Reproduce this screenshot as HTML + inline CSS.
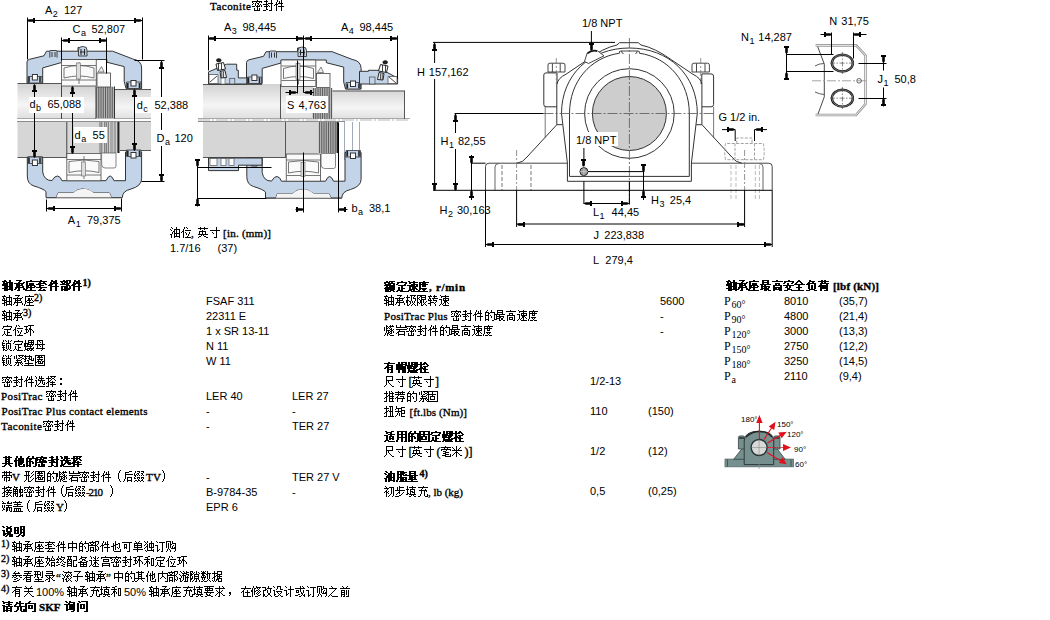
<!DOCTYPE html>
<html><head><meta charset="utf-8"><style>
html,body{margin:0;padding:0;background:#fff;width:1050px;height:620px;overflow:hidden}
svg{position:absolute;left:0;top:0;display:block}
text{fill:#000}
</style></head><body>
<svg width="1050" height="620" viewBox="0 0 1050 620">
<defs><path id="g8f74" d="M2 0h1v1h-1zM7 0h1v1h-1zM0 1h4v1h-4zM7 1h1v1h-1zM1 2h1v1h-1zM4 2h6v1h-6zM1 3h2v1h-2zM4 3h1v1h-1zM7 3h1v1h-1zM9 3h1v1h-1zM0 4h1v1h-1zM2 4h1v1h-1zM4 4h1v1h-1zM7 4h1v1h-1zM9 4h1v1h-1zM0 5h5v1h-5zM7 5h1v1h-1zM9 5h1v1h-1zM2 6h1v1h-1zM4 6h6v1h-6zM2 7h3v1h-3zM7 7h1v1h-1zM9 7h1v1h-1zM0 8h3v1h-3zM4 8h1v1h-1zM7 8h1v1h-1zM9 8h1v1h-1zM2 9h1v1h-1zM4 9h6v1h-6zM2 10h1v1h-1zM4 10h1v1h-1zM9 10h1v1h-1z"/><path id="g627f" d="M2 0h5v1h-5zM5 1h1v1h-1zM4 2h1v1h-1zM9 2h1v1h-1zM0 3h9v1h-9zM2 4h1v1h-1zM4 4h1v1h-1zM7 4h1v1h-1zM2 5h6v1h-6zM2 6h1v1h-1zM4 6h1v1h-1zM8 6h1v1h-1zM1 7h8v1h-8zM1 8h1v1h-1zM4 8h1v1h-1zM9 8h1v1h-1zM0 9h1v1h-1zM4 9h1v1h-1zM9 9h1v1h-1zM3 10h2v1h-2z"/><path id="g5ea7" d="M5 0h1v1h-1zM1 1h9v1h-9zM1 2h1v1h-1zM1 3h1v1h-1zM4 3h2v1h-2zM7 3h1v1h-1zM1 4h1v1h-1zM4 4h2v1h-2zM7 4h1v1h-1zM1 5h1v1h-1zM3 5h4v1h-4zM8 5h1v1h-1zM1 6h2v1h-2zM5 6h1v1h-1zM9 6h1v1h-1zM1 7h1v1h-1zM3 7h6v1h-6zM1 8h1v1h-1zM5 8h1v1h-1zM0 9h1v1h-1zM5 9h1v1h-1zM0 10h1v1h-1zM2 10h8v1h-8z"/><path id="g5957" d="M4 0h1v1h-1zM0 1h10v1h-10zM3 2h1v1h-1zM7 2h1v1h-1zM2 3h5v1h-5zM8 3h1v1h-1zM0 4h2v1h-2zM3 4h1v1h-1zM9 4h1v1h-1zM3 5h4v1h-4zM3 6h1v1h-1zM0 7h10v1h-10zM4 8h1v1h-1zM3 9h1v1h-1zM7 9h1v1h-1zM2 10h7v1h-7z"/><path id="g4ef6" d="M3 0h1v1h-1zM7 0h1v1h-1zM3 1h1v1h-1zM5 1h1v1h-1zM7 1h1v1h-1zM2 2h1v1h-1zM5 2h1v1h-1zM7 2h1v1h-1zM2 3h1v1h-1zM4 3h5v1h-5zM1 4h3v1h-3zM7 4h1v1h-1zM0 5h1v1h-1zM2 5h1v1h-1zM7 5h1v1h-1zM2 6h1v1h-1zM4 6h6v1h-6zM2 7h1v1h-1zM7 7h1v1h-1zM2 8h1v1h-1zM7 8h1v1h-1zM2 9h1v1h-1zM7 9h1v1h-1zM2 10h1v1h-1zM7 10h1v1h-1z"/><path id="g90e8" d="M3 0h1v1h-1zM6 0h4v1h-4zM0 1h7v1h-7zM9 1h1v1h-1zM1 2h1v1h-1zM4 2h1v1h-1zM6 2h1v1h-1zM9 2h1v1h-1zM2 3h2v1h-2zM6 3h1v1h-1zM8 3h1v1h-1zM0 4h8v1h-8zM6 5h1v1h-1zM8 5h1v1h-1zM1 6h4v1h-4zM6 6h1v1h-1zM9 6h1v1h-1zM1 7h1v1h-1zM4 7h1v1h-1zM6 7h1v1h-1zM9 7h1v1h-1zM1 8h1v1h-1zM4 8h1v1h-1zM6 8h2v1h-2zM9 8h1v1h-1zM1 9h4v1h-4zM6 9h1v1h-1zM8 9h1v1h-1zM1 10h1v1h-1zM4 10h1v1h-1zM6 10h1v1h-1z"/><path id="g5b9a" d="M5 0h1v1h-1zM1 1h9v1h-9zM1 2h1v1h-1zM9 2h1v1h-1zM0 3h1v1h-1zM8 3h1v1h-1zM2 4h7v1h-7zM5 5h1v1h-1zM2 6h1v1h-1zM5 6h1v1h-1zM2 7h1v1h-1zM5 7h3v1h-3zM2 8h1v1h-1zM5 8h1v1h-1zM1 9h1v1h-1zM3 9h1v1h-1zM5 9h1v1h-1zM0 10h1v1h-1zM4 10h6v1h-6z"/><path id="g4f4d" d="M3 0h1v1h-1zM5 0h1v1h-1zM3 1h1v1h-1zM6 1h1v1h-1zM2 2h1v1h-1zM2 3h1v1h-1zM4 3h6v1h-6zM1 4h2v1h-2zM0 5h1v1h-1zM2 5h1v1h-1zM4 5h1v1h-1zM8 5h1v1h-1zM2 6h1v1h-1zM5 6h1v1h-1zM8 6h1v1h-1zM2 7h1v1h-1zM5 7h1v1h-1zM7 7h1v1h-1zM2 8h1v1h-1zM7 8h1v1h-1zM2 9h1v1h-1zM6 9h1v1h-1zM2 10h1v1h-1zM4 10h6v1h-6z"/><path id="g73af" d="M4 0h6v1h-6zM0 1h4v1h-4zM6 1h1v1h-1zM2 2h1v1h-1zM6 2h1v1h-1zM2 3h1v1h-1zM5 3h2v1h-2zM1 4h3v1h-3zM5 4h3v1h-3zM2 5h1v1h-1zM4 5h1v1h-1zM6 5h1v1h-1zM8 5h1v1h-1zM2 6h1v1h-1zM4 6h1v1h-1zM6 6h1v1h-1zM9 6h1v1h-1zM2 7h2v1h-2zM6 7h1v1h-1zM9 7h1v1h-1zM0 8h2v1h-2zM6 8h1v1h-1zM6 9h1v1h-1zM6 10h1v1h-1z"/><path id="g9501" d="M1 0h1v1h-1zM3 0h1v1h-1zM6 0h1v1h-1zM9 0h1v1h-1zM1 1h1v1h-1zM4 1h1v1h-1zM6 1h1v1h-1zM8 1h1v1h-1zM0 2h1v1h-1zM6 2h1v1h-1zM0 3h3v1h-3zM4 3h5v1h-5zM0 4h1v1h-1zM4 4h1v1h-1zM8 4h1v1h-1zM0 5h3v1h-3zM4 5h1v1h-1zM6 5h1v1h-1zM8 5h1v1h-1zM1 6h1v1h-1zM4 6h1v1h-1zM6 6h1v1h-1zM8 6h1v1h-1zM0 7h3v1h-3zM4 7h1v1h-1zM6 7h1v1h-1zM8 7h1v1h-1zM1 8h1v1h-1zM4 8h1v1h-1zM6 8h1v1h-1zM8 8h1v1h-1zM1 9h2v1h-2zM5 9h1v1h-1zM7 9h1v1h-1zM1 10h1v1h-1zM3 10h2v1h-2zM8 10h2v1h-2z"/><path id="g87ba" d="M1 0h1v1h-1zM4 0h6v1h-6zM1 1h1v1h-1zM4 1h1v1h-1zM7 1h1v1h-1zM9 1h1v1h-1zM1 2h1v1h-1zM4 2h6v1h-6zM0 3h5v1h-5zM7 3h1v1h-1zM9 3h1v1h-1zM0 4h2v1h-2zM3 4h7v1h-7zM0 5h2v1h-2zM3 5h1v1h-1zM6 5h1v1h-1zM8 5h1v1h-1zM0 6h8v1h-8zM1 7h1v1h-1zM6 7h1v1h-1zM9 7h1v1h-1zM1 8h1v1h-1zM3 8h7v1h-7zM1 9h3v1h-3zM5 9h1v1h-1zM7 9h2v1h-2zM0 10h1v1h-1zM3 10h2v1h-2zM6 10h2v1h-2zM9 10h1v1h-1z"/><path id="g6bcd" d="M2 0h6v1h-6zM2 1h1v1h-1zM4 1h1v1h-1zM7 1h1v1h-1zM2 2h1v1h-1zM5 2h1v1h-1zM7 2h1v1h-1zM2 3h1v1h-1zM7 3h1v1h-1zM0 4h10v1h-10zM2 5h1v1h-1zM4 5h1v1h-1zM7 5h1v1h-1zM2 6h1v1h-1zM5 6h1v1h-1zM7 6h1v1h-1zM2 7h1v1h-1zM7 7h1v1h-1zM1 8h9v1h-9zM7 9h1v1h-1zM6 10h1v1h-1z"/><path id="g7d27" d="M3 0h1v1h-1zM5 0h6v1h-6zM1 1h1v1h-1zM3 1h1v1h-1zM6 1h1v1h-1zM9 1h1v1h-1zM1 2h1v1h-1zM3 2h1v1h-1zM7 2h2v1h-2zM1 3h1v1h-1zM3 3h1v1h-1zM5 3h2v1h-2zM9 3h2v1h-2zM4 4h1v1h-1zM8 4h1v1h-1zM3 5h5v1h-5zM4 6h1v1h-1zM8 6h1v1h-1zM2 7h7v1h-7zM3 8h1v1h-1zM5 8h1v1h-1zM7 8h1v1h-1zM9 8h1v1h-1zM2 9h1v1h-1zM5 9h1v1h-1zM8 9h1v1h-1zM1 10h1v1h-1zM4 10h2v1h-2zM9 10h1v1h-1z"/><path id="g57ab" d="M1 0h1v1h-1zM5 0h1v1h-1zM0 1h8v1h-8zM1 2h1v1h-1zM5 2h1v1h-1zM7 2h1v1h-1zM1 3h2v1h-2zM4 3h2v1h-2zM7 3h1v1h-1zM9 3h1v1h-1zM0 4h2v1h-2zM5 4h3v1h-3zM9 4h1v1h-1zM1 5h1v1h-1zM3 5h2v1h-2zM7 5h3v1h-3zM0 6h2v1h-2zM4 6h1v1h-1zM4 7h1v1h-1zM1 8h8v1h-8zM4 9h1v1h-1zM0 10h10v1h-10z"/><path id="g5708" d="M0 0h10v1h-10zM0 1h1v1h-1zM3 1h2v1h-2zM6 1h1v1h-1zM9 1h1v1h-1zM0 2h1v1h-1zM2 2h6v1h-6zM9 2h1v1h-1zM0 3h1v1h-1zM4 3h1v1h-1zM9 3h1v1h-1zM0 4h1v1h-1zM2 4h6v1h-6zM9 4h1v1h-1zM0 5h1v1h-1zM3 5h1v1h-1zM6 5h1v1h-1zM9 5h1v1h-1zM0 6h1v1h-1zM2 6h4v1h-4zM7 6h3v1h-3zM0 7h2v1h-2zM3 7h1v1h-1zM5 7h1v1h-1zM7 7h1v1h-1zM9 7h1v1h-1zM0 8h1v1h-1zM3 8h5v1h-5zM9 8h1v1h-1zM0 9h1v1h-1zM9 9h1v1h-1zM0 10h10v1h-10z"/><path id="g5bc6" d="M5 0h1v1h-1zM0 1h10v1h-10zM0 2h1v1h-1zM4 2h1v1h-1zM7 2h1v1h-1zM9 2h1v1h-1zM1 3h1v1h-1zM3 3h1v1h-1zM5 3h2v1h-2zM0 4h1v1h-1zM3 4h1v1h-1zM6 4h1v1h-1zM8 4h1v1h-1zM3 5h1v1h-1zM5 5h1v1h-1zM7 5h1v1h-1zM9 5h1v1h-1zM0 6h3v1h-3zM4 6h4v1h-4zM9 6h1v1h-1zM5 7h1v1h-1zM2 8h1v1h-1zM5 8h1v1h-1zM7 8h1v1h-1zM2 9h1v1h-1zM5 9h1v1h-1zM7 9h1v1h-1zM2 10h6v1h-6z"/><path id="g5c01" d="M3 0h1v1h-1zM8 0h1v1h-1zM1 1h4v1h-4zM8 1h1v1h-1zM3 2h1v1h-1zM8 2h1v1h-1zM3 3h1v1h-1zM5 3h5v1h-5zM0 4h5v1h-5zM8 4h1v1h-1zM3 5h1v1h-1zM5 5h1v1h-1zM8 5h1v1h-1zM1 6h4v1h-4zM6 6h1v1h-1zM8 6h1v1h-1zM3 7h1v1h-1zM8 7h1v1h-1zM3 8h1v1h-1zM8 8h1v1h-1zM3 9h2v1h-2zM8 9h1v1h-1zM0 10h3v1h-3zM6 10h3v1h-3z"/><path id="g9009" d="M0 0h1v1h-1zM4 0h1v1h-1zM6 0h1v1h-1zM1 1h1v1h-1zM4 1h1v1h-1zM6 1h1v1h-1zM1 2h1v1h-1zM4 2h5v1h-5zM3 3h1v1h-1zM6 3h1v1h-1zM0 4h2v1h-2zM3 4h7v1h-7zM1 5h1v1h-1zM5 5h1v1h-1zM7 5h1v1h-1zM1 6h1v1h-1zM5 6h1v1h-1zM7 6h1v1h-1zM9 6h1v1h-1zM1 7h1v1h-1zM4 7h1v1h-1zM7 7h1v1h-1zM9 7h1v1h-1zM1 8h1v1h-1zM3 8h1v1h-1zM8 8h2v1h-2zM0 9h1v1h-1zM2 9h1v1h-1zM0 10h1v1h-1zM3 10h7v1h-7z"/><path id="g62e9" d="M2 0h1v1h-1zM4 0h6v1h-6zM2 1h1v1h-1zM5 1h1v1h-1zM8 1h1v1h-1zM0 2h5v1h-5zM6 2h2v1h-2zM2 3h1v1h-1zM5 3h1v1h-1zM8 3h1v1h-1zM2 4h1v1h-1zM4 4h1v1h-1zM9 4h1v1h-1zM2 5h2v1h-2zM6 5h1v1h-1zM1 6h2v1h-2zM4 6h5v1h-5zM0 7h1v1h-1zM2 7h1v1h-1zM6 7h1v1h-1zM2 8h1v1h-1zM4 8h6v1h-6zM2 9h1v1h-1zM6 9h1v1h-1zM0 10h3v1h-3zM6 10h1v1h-1z"/><path id="gff1a" d="M6 2h2v1h-2zM6 3h2v1h-2zM6 7h2v1h-2zM6 8h2v1h-2z"/><path id="g5176" d="M3 0h1v1h-1zM6 0h1v1h-1zM1 1h8v1h-8zM3 2h1v1h-1zM6 2h1v1h-1zM3 3h4v1h-4zM3 4h1v1h-1zM6 4h1v1h-1zM3 5h4v1h-4zM3 6h1v1h-1zM6 6h1v1h-1zM0 7h10v1h-10zM3 8h1v1h-1zM6 8h1v1h-1zM2 9h1v1h-1zM7 9h1v1h-1zM0 10h2v1h-2zM8 10h1v1h-1z"/><path id="g4ed6" d="M2 0h1v1h-1zM6 0h1v1h-1zM2 1h1v1h-1zM6 1h1v1h-1zM1 2h1v1h-1zM4 2h1v1h-1zM6 2h1v1h-1zM8 2h1v1h-1zM1 3h1v1h-1zM4 3h1v1h-1zM6 3h3v1h-3zM0 4h2v1h-2zM3 4h4v1h-4zM8 4h1v1h-1zM0 5h2v1h-2zM4 5h1v1h-1zM6 5h1v1h-1zM8 5h1v1h-1zM1 6h1v1h-1zM4 6h1v1h-1zM6 6h1v1h-1zM8 6h1v1h-1zM1 7h1v1h-1zM4 7h1v1h-1zM6 7h2v1h-2zM1 8h1v1h-1zM4 8h1v1h-1zM6 8h1v1h-1zM9 8h1v1h-1zM1 9h1v1h-1zM4 9h1v1h-1zM9 9h1v1h-1zM1 10h1v1h-1zM5 10h5v1h-5z"/><path id="g7684" d="M3 0h1v1h-1zM7 0h1v1h-1zM2 1h1v1h-1zM7 1h1v1h-1zM1 2h4v1h-4zM6 2h5v1h-5zM1 3h1v1h-1zM4 3h2v1h-2zM10 3h1v1h-1zM1 4h1v1h-1zM4 4h1v1h-1zM10 4h1v1h-1zM1 5h4v1h-4zM6 5h1v1h-1zM10 5h1v1h-1zM1 6h1v1h-1zM4 6h1v1h-1zM7 6h1v1h-1zM10 6h1v1h-1zM1 7h1v1h-1zM4 7h1v1h-1zM7 7h1v1h-1zM10 7h1v1h-1zM1 8h1v1h-1zM4 8h1v1h-1zM10 8h1v1h-1zM1 9h4v1h-4zM10 9h1v1h-1zM1 10h1v1h-1zM4 10h1v1h-1zM8 10h2v1h-2z"/><path id="g5e26" d="M2 0h1v1h-1zM4 0h1v1h-1zM7 0h1v1h-1zM0 1h10v1h-10zM2 2h1v1h-1zM4 2h1v1h-1zM7 2h1v1h-1zM2 3h1v1h-1zM4 3h1v1h-1zM7 3h1v1h-1zM0 4h10v1h-10zM0 5h1v1h-1zM4 5h1v1h-1zM9 5h1v1h-1zM0 6h1v1h-1zM2 6h6v1h-6zM9 6h1v1h-1zM2 7h1v1h-1zM4 7h1v1h-1zM7 7h1v1h-1zM2 8h1v1h-1zM4 8h1v1h-1zM7 8h1v1h-1zM2 9h1v1h-1zM4 9h1v1h-1zM6 9h2v1h-2zM4 10h1v1h-1z"/><path id="g5f62" d="M1 0h5v1h-5zM9 0h1v1h-1zM2 1h1v1h-1zM4 1h1v1h-1zM8 1h1v1h-1zM2 2h1v1h-1zM4 2h1v1h-1zM7 2h1v1h-1zM2 3h1v1h-1zM4 3h1v1h-1zM9 3h1v1h-1zM0 4h6v1h-6zM8 4h1v1h-1zM2 5h1v1h-1zM4 5h1v1h-1zM7 5h1v1h-1zM2 6h1v1h-1zM4 6h1v1h-1zM6 6h1v1h-1zM2 7h1v1h-1zM4 7h1v1h-1zM9 7h1v1h-1zM2 8h1v1h-1zM4 8h1v1h-1zM8 8h1v1h-1zM1 9h1v1h-1zM4 9h1v1h-1zM7 9h1v1h-1zM0 10h1v1h-1zM4 10h3v1h-3z"/><path id="g71e7" d="M2 0h1v1h-1zM6 0h1v1h-1zM8 0h1v1h-1zM2 1h2v1h-2zM5 1h5v1h-5zM0 2h1v1h-1zM2 2h1v1h-1zM4 2h1v1h-1zM6 2h1v1h-1zM0 3h1v1h-1zM2 3h2v1h-2zM5 3h1v1h-1zM7 3h1v1h-1zM0 4h1v1h-1zM2 4h1v1h-1zM6 4h2v1h-2zM9 4h1v1h-1zM0 5h1v1h-1zM2 5h4v1h-4zM7 5h2v1h-2zM2 6h1v1h-1zM4 6h1v1h-1zM6 6h2v1h-2zM9 6h1v1h-1zM2 7h1v1h-1zM4 7h2v1h-2zM7 7h1v1h-1zM9 7h1v1h-1zM1 8h1v1h-1zM3 8h2v1h-2zM6 8h2v1h-2zM1 9h1v1h-1zM3 9h1v1h-1zM5 9h1v1h-1zM0 10h1v1h-1zM3 10h1v1h-1zM6 10h4v1h-4z"/><path id="g5ca9" d="M1 0h1v1h-1zM5 0h1v1h-1zM10 0h1v1h-1zM1 1h1v1h-1zM5 1h1v1h-1zM10 1h1v1h-1zM1 2h10v1h-10zM1 4h10v1h-10zM4 5h1v1h-1zM3 6h7v1h-7zM2 7h2v1h-2zM9 7h1v1h-1zM1 8h1v1h-1zM3 8h1v1h-1zM9 8h1v1h-1zM3 9h7v1h-7zM3 10h1v1h-1zM9 10h1v1h-1z"/><path id="gff08" d="M9 -1h1v1h-1zM8 0h1v1h-1zM8 1h1v1h-1zM7 2h1v1h-1zM7 3h1v1h-1zM7 4h1v1h-1zM7 5h1v1h-1zM7 6h1v1h-1zM7 7h1v1h-1zM8 8h1v1h-1zM8 9h1v1h-1zM9 10h1v1h-1z"/><path id="g540e" d="M6 0h3v1h-3zM2 1h4v1h-4zM2 2h1v1h-1zM2 3h8v1h-8zM2 4h1v1h-1zM2 5h1v1h-1zM2 6h1v1h-1zM4 6h5v1h-5zM2 7h1v1h-1zM4 7h1v1h-1zM8 7h1v1h-1zM1 8h1v1h-1zM4 8h1v1h-1zM8 8h1v1h-1zM1 9h1v1h-1zM4 9h5v1h-5zM0 10h1v1h-1zM4 10h1v1h-1zM8 10h1v1h-1z"/><path id="g7f00" d="M1 0h1v1h-1zM3 0h3v1h-3zM7 0h3v1h-3zM1 1h1v1h-1zM5 1h1v1h-1zM9 1h1v1h-1zM0 2h1v1h-1zM3 2h2v1h-2zM7 2h2v1h-2zM0 3h1v1h-1zM2 3h1v1h-1zM4 3h1v1h-1zM8 3h1v1h-1zM0 4h2v1h-2zM3 4h1v1h-1zM5 4h1v1h-1zM7 4h1v1h-1zM9 4h1v1h-1zM1 5h1v1h-1zM0 6h1v1h-1zM3 6h3v1h-3zM7 6h3v1h-3zM0 7h2v1h-2zM3 7h1v1h-1zM5 7h1v1h-1zM7 7h1v1h-1zM9 7h1v1h-1zM4 8h1v1h-1zM8 8h1v1h-1zM1 9h2v1h-2zM4 9h2v1h-2zM7 9h2v1h-2zM0 10h1v1h-1zM3 10h1v1h-1zM6 10h1v1h-1zM9 10h1v1h-1z"/><path id="gff09" d="M3 -1h1v1h-1zM4 0h1v1h-1zM4 1h1v1h-1zM5 2h1v1h-1zM5 3h1v1h-1zM5 4h1v1h-1zM5 5h1v1h-1zM5 6h1v1h-1zM5 7h1v1h-1zM4 8h1v1h-1zM4 9h1v1h-1zM3 10h1v1h-1z"/><path id="g63a5" d="M2 0h1v1h-1zM6 0h1v1h-1zM2 1h1v1h-1zM4 1h6v1h-6zM0 2h5v1h-5zM8 2h1v1h-1zM2 3h1v1h-1zM5 3h1v1h-1zM7 3h1v1h-1zM2 4h1v1h-1zM4 4h6v1h-6zM2 5h2v1h-2zM6 5h1v1h-1zM1 6h2v1h-2zM4 6h6v1h-6zM0 7h1v1h-1zM2 7h1v1h-1zM5 7h1v1h-1zM8 7h1v1h-1zM2 8h1v1h-1zM4 8h2v1h-2zM7 8h1v1h-1zM2 9h1v1h-1zM6 9h1v1h-1zM8 9h1v1h-1zM0 10h3v1h-3zM4 10h2v1h-2zM9 10h1v1h-1z"/><path id="g89e6" d="M1 0h1v1h-1zM7 0h1v1h-1zM1 1h4v1h-4zM7 1h1v1h-1zM0 2h1v1h-1zM3 2h1v1h-1zM7 2h1v1h-1zM0 3h5v1h-5zM6 3h4v1h-4zM0 4h1v1h-1zM2 4h1v1h-1zM4 4h1v1h-1zM6 4h2v1h-2zM9 4h1v1h-1zM0 5h5v1h-5zM6 5h2v1h-2zM9 5h1v1h-1zM0 6h1v1h-1zM2 6h1v1h-1zM4 6h1v1h-1zM6 6h4v1h-4zM0 7h5v1h-5zM7 7h1v1h-1zM0 8h1v1h-1zM2 8h1v1h-1zM4 8h1v1h-1zM7 8h1v1h-1zM9 8h1v1h-1zM0 9h1v1h-1zM2 9h1v1h-1zM4 9h1v1h-1zM7 9h3v1h-3zM0 10h1v1h-1zM3 10h2v1h-2zM6 10h2v1h-2zM9 10h1v1h-1z"/><path id="g7aef" d="M0 0h1v1h-1zM6 0h1v1h-1zM1 1h1v1h-1zM5 1h2v1h-2zM9 1h1v1h-1zM0 2h4v1h-4zM5 2h5v1h-5zM0 4h1v1h-1zM2 4h1v1h-1zM4 4h6v1h-6zM0 5h1v1h-1zM2 5h1v1h-1zM6 5h1v1h-1zM0 6h1v1h-1zM2 6h1v1h-1zM4 6h6v1h-6zM1 7h1v1h-1zM4 7h2v1h-2zM7 7h1v1h-1zM9 7h1v1h-1zM1 8h2v1h-2zM4 8h2v1h-2zM7 8h1v1h-1zM9 8h1v1h-1zM0 9h1v1h-1zM4 9h2v1h-2zM7 9h1v1h-1zM9 9h1v1h-1zM4 10h1v1h-1zM8 10h2v1h-2z"/><path id="g76d6" d="M2 0h1v1h-1zM6 0h1v1h-1zM0 1h9v1h-9zM4 2h1v1h-1zM1 3h7v1h-7zM4 4h1v1h-1zM0 5h10v1h-10zM1 7h7v1h-7zM1 8h1v1h-1zM3 8h1v1h-1zM5 8h1v1h-1zM7 8h1v1h-1zM1 9h1v1h-1zM3 9h1v1h-1zM5 9h1v1h-1zM7 9h1v1h-1zM0 10h10v1h-10z"/><path id="g8bf4" d="M0 0h1v1h-1zM4 0h1v1h-1zM8 0h1v1h-1zM1 1h1v1h-1zM5 1h1v1h-1zM7 1h1v1h-1zM4 2h5v1h-5zM4 3h1v1h-1zM8 3h1v1h-1zM0 4h2v1h-2zM4 4h1v1h-1zM8 4h1v1h-1zM1 5h1v1h-1zM4 5h5v1h-5zM1 6h1v1h-1zM5 6h1v1h-1zM7 6h1v1h-1zM1 7h1v1h-1zM3 7h1v1h-1zM5 7h1v1h-1zM7 7h1v1h-1zM1 8h2v1h-2zM5 8h1v1h-1zM7 8h1v1h-1zM9 8h1v1h-1zM1 9h1v1h-1zM4 9h1v1h-1zM7 9h1v1h-1zM9 9h1v1h-1zM3 10h1v1h-1zM7 10h3v1h-3z"/><path id="g660e" d="M6 0h4v1h-4zM0 1h4v1h-4zM6 1h1v1h-1zM9 1h1v1h-1zM0 2h1v1h-1zM3 2h1v1h-1zM6 2h1v1h-1zM9 2h1v1h-1zM0 3h1v1h-1zM3 3h1v1h-1zM6 3h4v1h-4zM0 4h4v1h-4zM6 4h1v1h-1zM9 4h1v1h-1zM0 5h1v1h-1zM3 5h1v1h-1zM6 5h1v1h-1zM9 5h1v1h-1zM0 6h1v1h-1zM3 6h1v1h-1zM6 6h4v1h-4zM0 7h4v1h-4zM6 7h1v1h-1zM9 7h1v1h-1zM5 8h1v1h-1zM9 8h1v1h-1zM4 9h1v1h-1zM7 9h1v1h-1zM9 9h1v1h-1zM2 10h2v1h-2zM8 10h1v1h-1z"/><path id="g4e2d" d="M5 0h1v1h-1zM5 1h1v1h-1zM1 2h9v1h-9zM1 3h1v1h-1zM5 3h1v1h-1zM9 3h1v1h-1zM1 4h1v1h-1zM5 4h1v1h-1zM9 4h1v1h-1zM1 5h1v1h-1zM5 5h1v1h-1zM9 5h1v1h-1zM1 6h9v1h-9zM1 7h1v1h-1zM5 7h1v1h-1zM9 7h1v1h-1zM5 8h1v1h-1zM5 9h1v1h-1zM5 10h1v1h-1z"/><path id="g4e5f" d="M4 0h1v1h-1zM4 1h1v1h-1zM2 2h1v1h-1zM4 2h1v1h-1zM7 2h2v1h-2zM2 3h1v1h-1zM4 3h3v1h-3zM8 3h1v1h-1zM2 4h3v1h-3zM8 4h1v1h-1zM0 5h3v1h-3zM4 5h1v1h-1zM8 5h1v1h-1zM2 6h1v1h-1zM4 6h1v1h-1zM6 6h1v1h-1zM8 6h1v1h-1zM2 7h1v1h-1zM4 7h1v1h-1zM7 7h1v1h-1zM2 8h1v1h-1zM4 8h1v1h-1zM9 8h1v1h-1zM2 9h1v1h-1zM9 9h1v1h-1zM3 10h7v1h-7z"/><path id="g53ef" d="M0 1h10v1h-10zM7 2h1v1h-1zM2 3h3v1h-3zM7 3h1v1h-1zM2 4h1v1h-1zM4 4h1v1h-1zM7 4h1v1h-1zM2 5h1v1h-1zM4 5h1v1h-1zM7 5h1v1h-1zM2 6h3v1h-3zM7 6h1v1h-1zM2 7h1v1h-1zM4 7h1v1h-1zM7 7h1v1h-1zM7 8h1v1h-1zM7 9h1v1h-1zM5 10h3v1h-3z"/><path id="g5355" d="M2 0h1v1h-1zM6 0h1v1h-1zM3 1h1v1h-1zM5 1h1v1h-1zM1 2h8v1h-8zM1 3h1v1h-1zM4 3h1v1h-1zM8 3h1v1h-1zM1 4h8v1h-8zM1 5h1v1h-1zM4 5h1v1h-1zM8 5h1v1h-1zM1 6h8v1h-8zM4 7h1v1h-1zM0 8h10v1h-10zM4 9h1v1h-1zM4 10h1v1h-1z"/><path id="g72ec" d="M0 0h1v1h-1zM3 0h1v1h-1zM7 0h1v1h-1zM1 1h1v1h-1zM3 1h1v1h-1zM7 1h1v1h-1zM2 2h1v1h-1zM5 2h5v1h-5zM1 3h1v1h-1zM3 3h1v1h-1zM5 3h1v1h-1zM7 3h1v1h-1zM9 3h1v1h-1zM0 4h1v1h-1zM3 4h1v1h-1zM5 4h1v1h-1zM7 4h1v1h-1zM9 4h1v1h-1zM2 5h2v1h-2zM5 5h1v1h-1zM7 5h1v1h-1zM9 5h1v1h-1zM1 6h1v1h-1zM3 6h1v1h-1zM5 6h5v1h-5zM0 7h1v1h-1zM3 7h1v1h-1zM7 7h1v1h-1zM3 8h1v1h-1zM7 8h1v1h-1zM9 8h1v1h-1zM1 9h1v1h-1zM3 9h7v1h-7zM2 10h1v1h-1zM9 10h1v1h-1z"/><path id="g8ba2" d="M1 0h1v1h-1zM2 1h1v1h-1zM4 1h6v1h-6zM7 2h1v1h-1zM7 3h1v1h-1zM0 4h3v1h-3zM7 4h1v1h-1zM2 5h1v1h-1zM7 5h1v1h-1zM2 6h1v1h-1zM7 6h1v1h-1zM2 7h1v1h-1zM7 7h1v1h-1zM2 8h1v1h-1zM4 8h1v1h-1zM7 8h1v1h-1zM2 9h2v1h-2zM7 9h1v1h-1zM2 10h1v1h-1zM6 10h2v1h-2z"/><path id="g8d2d" d="M0 0h5v1h-5zM6 0h1v1h-1zM0 1h1v1h-1zM4 1h1v1h-1zM6 1h1v1h-1zM0 2h1v1h-1zM2 2h1v1h-1zM4 2h1v1h-1zM6 2h4v1h-4zM0 3h1v1h-1zM2 3h1v1h-1zM4 3h2v1h-2zM9 3h1v1h-1zM0 4h1v1h-1zM2 4h1v1h-1zM4 4h1v1h-1zM7 4h1v1h-1zM9 4h1v1h-1zM0 5h1v1h-1zM2 5h1v1h-1zM4 5h1v1h-1zM6 5h1v1h-1zM9 5h1v1h-1zM0 6h1v1h-1zM2 6h1v1h-1zM4 6h1v1h-1zM6 6h1v1h-1zM8 6h2v1h-2zM2 7h1v1h-1zM5 7h5v1h-5zM1 8h1v1h-1zM3 8h1v1h-1zM9 8h1v1h-1zM1 9h1v1h-1zM4 9h1v1h-1zM9 9h1v1h-1zM0 10h1v1h-1zM4 10h1v1h-1zM8 10h1v1h-1z"/><path id="g59cb" d="M2 0h1v1h-1zM7 0h1v1h-1zM2 1h1v1h-1zM7 1h1v1h-1zM0 2h5v1h-5zM6 2h1v1h-1zM8 2h1v1h-1zM2 3h1v1h-1zM4 3h1v1h-1zM6 3h1v1h-1zM9 3h1v1h-1zM2 4h1v1h-1zM4 4h6v1h-6zM1 5h1v1h-1zM4 5h1v1h-1zM1 6h1v1h-1zM3 6h1v1h-1zM6 6h4v1h-4zM2 7h2v1h-2zM6 7h1v1h-1zM9 7h1v1h-1zM2 8h1v1h-1zM4 8h1v1h-1zM6 8h1v1h-1zM9 8h1v1h-1zM1 9h1v1h-1zM4 9h1v1h-1zM6 9h4v1h-4zM0 10h1v1h-1zM6 10h1v1h-1zM9 10h1v1h-1z"/><path id="g7ec8" d="M2 0h1v1h-1zM5 0h1v1h-1zM2 1h1v1h-1zM5 1h4v1h-4zM1 2h1v1h-1zM3 2h2v1h-2zM8 2h1v1h-1zM0 3h3v1h-3zM4 3h2v1h-2zM7 3h1v1h-1zM2 4h1v1h-1zM6 4h1v1h-1zM1 5h1v1h-1zM5 5h1v1h-1zM7 5h1v1h-1zM0 6h3v1h-3zM4 6h1v1h-1zM8 6h2v1h-2zM6 7h1v1h-1zM2 8h2v1h-2zM7 8h2v1h-2zM0 9h2v1h-2zM5 9h2v1h-2zM7 10h2v1h-2z"/><path id="g914d" d="M0 0h5v1h-5zM6 0h4v1h-4zM1 1h1v1h-1zM3 1h1v1h-1zM9 1h1v1h-1zM1 2h1v1h-1zM3 2h1v1h-1zM9 2h1v1h-1zM0 3h5v1h-5zM9 3h1v1h-1zM0 4h1v1h-1zM2 4h1v1h-1zM4 4h1v1h-1zM6 4h4v1h-4zM0 5h2v1h-2zM3 5h2v1h-2zM6 5h1v1h-1zM0 6h1v1h-1zM4 6h1v1h-1zM6 6h1v1h-1zM0 7h5v1h-5zM6 7h1v1h-1zM0 8h1v1h-1zM4 8h1v1h-1zM6 8h1v1h-1zM9 8h1v1h-1zM0 9h5v1h-5zM6 9h1v1h-1zM9 9h1v1h-1zM0 10h1v1h-1zM4 10h1v1h-1zM6 10h4v1h-4z"/><path id="g5907" d="M3 0h1v1h-1zM3 1h6v1h-6zM2 2h2v1h-2zM7 2h1v1h-1zM1 3h1v1h-1zM4 3h3v1h-3zM4 4h1v1h-1zM6 4h2v1h-2zM2 5h2v1h-2zM8 5h2v1h-2zM0 6h9v1h-9zM2 7h1v1h-1zM5 7h1v1h-1zM8 7h1v1h-1zM2 8h7v1h-7zM2 9h1v1h-1zM5 9h1v1h-1zM8 9h1v1h-1zM2 10h7v1h-7z"/><path id="g8ff7" d="M1 0h1v1h-1zM6 0h1v1h-1zM2 1h1v1h-1zM4 1h1v1h-1zM6 1h1v1h-1zM9 1h1v1h-1zM2 2h1v1h-1zM5 2h2v1h-2zM8 2h1v1h-1zM6 3h1v1h-1zM0 4h3v1h-3zM4 4h6v1h-6zM2 5h1v1h-1zM6 5h1v1h-1zM2 6h1v1h-1zM5 6h3v1h-3zM2 7h1v1h-1zM5 7h2v1h-2zM8 7h1v1h-1zM2 8h1v1h-1zM4 8h1v1h-1zM6 8h1v1h-1zM9 8h1v1h-1zM1 9h1v1h-1zM3 9h1v1h-1zM6 9h1v1h-1zM0 10h1v1h-1zM4 10h6v1h-6z"/><path id="g5bab" d="M5 0h1v1h-1zM1 1h10v1h-10zM1 2h1v1h-1zM10 2h1v1h-1zM3 3h6v1h-6zM3 4h1v1h-1zM8 4h1v1h-1zM3 5h6v1h-6zM2 7h8v1h-8zM2 8h1v1h-1zM9 8h1v1h-1zM2 9h8v1h-8zM2 10h1v1h-1zM9 10h1v1h-1z"/><path id="g548c" d="M4 0h2v1h-2zM1 1h3v1h-3zM3 2h1v1h-1zM7 2h3v1h-3zM0 3h6v1h-6zM7 3h1v1h-1zM9 3h1v1h-1zM3 4h1v1h-1zM7 4h1v1h-1zM9 4h1v1h-1zM2 5h3v1h-3zM7 5h1v1h-1zM9 5h1v1h-1zM2 6h2v1h-2zM5 6h1v1h-1zM7 6h1v1h-1zM9 6h1v1h-1zM1 7h1v1h-1zM3 7h1v1h-1zM5 7h1v1h-1zM7 7h1v1h-1zM9 7h1v1h-1zM0 8h1v1h-1zM3 8h1v1h-1zM7 8h1v1h-1zM9 8h1v1h-1zM3 9h1v1h-1zM7 9h3v1h-3zM3 10h1v1h-1z"/><path id="g53c2" d="M3 0h1v1h-1zM2 1h1v1h-1zM6 1h1v1h-1zM1 2h7v1h-7zM3 3h1v1h-1zM0 4h10v1h-10zM1 5h1v1h-1zM4 5h1v1h-1zM7 5h1v1h-1zM0 6h1v1h-1zM2 6h2v1h-2zM8 6h2v1h-2zM4 7h2v1h-2zM2 8h2v1h-2zM7 8h1v1h-1zM5 9h2v1h-2zM1 10h4v1h-4z"/><path id="g770b" d="M1 0h8v1h-8zM5 1h1v1h-1zM1 2h7v1h-7zM4 3h1v1h-1zM0 4h10v1h-10zM3 5h1v1h-1zM7 5h1v1h-1zM2 6h6v1h-6zM1 7h1v1h-1zM3 7h1v1h-1zM7 7h1v1h-1zM0 8h1v1h-1zM3 8h5v1h-5zM3 9h1v1h-1zM7 9h1v1h-1zM3 10h5v1h-5z"/><path id="g578b" d="M0 0h6v1h-6zM8 0h1v1h-1zM1 1h1v1h-1zM3 1h1v1h-1zM6 1h1v1h-1zM8 1h1v1h-1zM1 2h1v1h-1zM3 2h1v1h-1zM6 2h1v1h-1zM8 2h1v1h-1zM0 3h7v1h-7zM8 3h1v1h-1zM1 4h1v1h-1zM3 4h1v1h-1zM6 4h1v1h-1zM8 4h1v1h-1zM1 5h1v1h-1zM3 5h1v1h-1zM8 5h1v1h-1zM0 6h1v1h-1zM3 6h2v1h-2zM7 6h2v1h-2zM4 7h1v1h-1zM1 8h7v1h-7zM4 9h1v1h-1zM0 10h10v1h-10z"/><path id="g5f55" d="M1 0h7v1h-7zM7 1h1v1h-1zM1 2h7v1h-7zM7 3h1v1h-1zM0 4h10v1h-10zM1 5h1v1h-1zM4 5h1v1h-1zM8 5h1v1h-1zM2 6h1v1h-1zM4 6h2v1h-2zM7 6h1v1h-1zM3 7h2v1h-2zM6 7h1v1h-1zM1 8h2v1h-2zM4 8h1v1h-1zM7 8h1v1h-1zM0 9h1v1h-1zM4 9h1v1h-1zM8 9h2v1h-2zM3 10h2v1h-2z"/><path id="g6eda" d="M1 0h1v1h-1zM6 0h1v1h-1zM2 1h8v1h-8zM4 2h1v1h-1zM8 2h1v1h-1zM0 3h1v1h-1zM3 3h1v1h-1zM6 3h1v1h-1zM9 3h1v1h-1zM1 4h1v1h-1zM3 4h1v1h-1zM5 4h1v1h-1zM7 4h1v1h-1zM9 4h1v1h-1zM2 5h1v1h-1zM4 5h3v1h-3zM8 5h1v1h-1zM2 6h1v1h-1zM5 6h1v1h-1zM9 6h1v1h-1zM0 7h2v1h-2zM4 7h1v1h-1zM6 7h1v1h-1zM8 7h1v1h-1zM1 8h1v1h-1zM3 8h2v1h-2zM7 8h1v1h-1zM1 9h1v1h-1zM4 9h1v1h-1zM6 9h1v1h-1zM8 9h1v1h-1zM1 10h1v1h-1zM4 10h2v1h-2zM9 10h1v1h-1z"/><path id="g5b50" d="M1 0h7v1h-7zM6 1h1v1h-1zM5 2h1v1h-1zM4 3h1v1h-1zM4 4h1v1h-1zM0 5h10v1h-10zM4 6h1v1h-1zM4 7h1v1h-1zM4 8h1v1h-1zM2 9h1v1h-1zM4 9h1v1h-1zM3 10h1v1h-1z"/><path id="g5185" d="M5 0h1v1h-1zM5 1h1v1h-1zM1 2h10v1h-10zM1 3h1v1h-1zM5 3h1v1h-1zM10 3h1v1h-1zM1 4h1v1h-1zM5 4h1v1h-1zM10 4h1v1h-1zM1 5h1v1h-1zM5 5h2v1h-2zM10 5h1v1h-1zM1 6h1v1h-1zM4 6h1v1h-1zM7 6h1v1h-1zM10 6h1v1h-1zM1 7h1v1h-1zM3 7h1v1h-1zM8 7h1v1h-1zM10 7h1v1h-1zM1 8h1v1h-1zM10 8h1v1h-1zM1 9h1v1h-1zM10 9h1v1h-1zM1 10h1v1h-1zM8 10h3v1h-3z"/><path id="g6e38" d="M1 0h1v1h-1zM4 0h1v1h-1zM7 0h1v1h-1zM2 1h1v1h-1zM5 1h1v1h-1zM7 1h3v1h-3zM3 2h5v1h-5zM0 3h1v1h-1zM4 3h1v1h-1zM7 3h3v1h-3zM1 4h1v1h-1zM3 4h4v1h-4zM9 4h1v1h-1zM2 5h1v1h-1zM4 5h1v1h-1zM6 5h1v1h-1zM8 5h1v1h-1zM2 6h1v1h-1zM4 6h1v1h-1zM6 6h4v1h-4zM0 7h2v1h-2zM4 7h1v1h-1zM6 7h1v1h-1zM8 7h1v1h-1zM1 8h1v1h-1zM4 8h1v1h-1zM6 8h1v1h-1zM8 8h1v1h-1zM1 9h1v1h-1zM3 9h1v1h-1zM6 9h1v1h-1zM8 9h1v1h-1zM1 10h2v1h-2zM5 10h4v1h-4z"/><path id="g9699" d="M0 0h3v1h-3zM6 0h1v1h-1zM0 1h1v1h-1zM2 1h1v1h-1zM4 1h1v1h-1zM6 1h1v1h-1zM8 1h1v1h-1zM0 2h2v1h-2zM3 2h1v1h-1zM6 2h1v1h-1zM9 2h1v1h-1zM0 3h3v1h-3zM4 3h5v1h-5zM0 4h2v1h-2zM4 4h1v1h-1zM8 4h1v1h-1zM0 5h1v1h-1zM2 5h1v1h-1zM4 5h5v1h-5zM0 6h1v1h-1zM2 6h1v1h-1zM4 6h1v1h-1zM8 6h1v1h-1zM0 7h3v1h-3zM4 7h5v1h-5zM0 8h2v1h-2zM4 8h1v1h-1zM6 8h1v1h-1zM8 8h1v1h-1zM0 9h1v1h-1zM3 9h1v1h-1zM6 9h1v1h-1zM9 9h1v1h-1zM0 10h1v1h-1zM2 10h1v1h-1zM5 10h2v1h-2zM9 10h1v1h-1z"/><path id="g6570" d="M0 0h1v1h-1zM2 0h1v1h-1zM4 0h1v1h-1zM6 0h1v1h-1zM1 1h3v1h-3zM6 1h1v1h-1zM0 2h5v1h-5zM6 2h4v1h-4zM1 3h2v1h-2zM5 3h2v1h-2zM8 3h1v1h-1zM1 4h3v1h-3zM6 4h1v1h-1zM8 4h1v1h-1zM0 5h1v1h-1zM2 5h1v1h-1zM4 5h1v1h-1zM6 5h1v1h-1zM8 5h1v1h-1zM0 6h5v1h-5zM6 6h1v1h-1zM8 6h1v1h-1zM1 7h1v1h-1zM3 7h1v1h-1zM6 7h1v1h-1zM8 7h1v1h-1zM1 8h1v1h-1zM3 8h1v1h-1zM7 8h1v1h-1zM2 9h1v1h-1zM6 9h1v1h-1zM8 9h1v1h-1zM0 10h2v1h-2zM3 10h3v1h-3zM9 10h1v1h-1z"/><path id="g636e" d="M2 0h1v1h-1zM5 0h5v1h-5zM2 1h1v1h-1zM5 1h1v1h-1zM9 1h1v1h-1zM0 2h6v1h-6zM9 2h1v1h-1zM2 3h1v1h-1zM5 3h5v1h-5zM2 4h1v1h-1zM4 4h2v1h-2zM7 4h1v1h-1zM2 5h2v1h-2zM5 5h5v1h-5zM1 6h2v1h-2zM5 6h1v1h-1zM7 6h1v1h-1zM0 7h1v1h-1zM2 7h1v1h-1zM5 7h5v1h-5zM2 8h1v1h-1zM4 8h3v1h-3zM9 8h1v1h-1zM0 9h1v1h-1zM2 9h1v1h-1zM4 9h1v1h-1zM6 9h1v1h-1zM9 9h1v1h-1zM1 10h1v1h-1zM3 10h1v1h-1zM6 10h4v1h-4z"/><path id="g6709" d="M4 0h1v1h-1zM0 1h10v1h-10zM3 2h1v1h-1zM3 3h5v1h-5zM2 4h2v1h-2zM7 4h1v1h-1zM1 5h1v1h-1zM3 5h5v1h-5zM0 6h1v1h-1zM3 6h1v1h-1zM7 6h1v1h-1zM3 7h5v1h-5zM3 8h1v1h-1zM7 8h1v1h-1zM3 9h1v1h-1zM7 9h1v1h-1zM3 10h1v1h-1zM6 10h2v1h-2z"/><path id="g5173" d="M1 0h1v1h-1zM7 0h1v1h-1zM2 1h1v1h-1zM6 1h1v1h-1zM0 2h9v1h-9zM4 3h1v1h-1zM4 4h1v1h-1zM0 5h9v1h-9zM4 6h1v1h-1zM3 7h1v1h-1zM5 7h1v1h-1zM2 8h1v1h-1zM6 8h1v1h-1zM1 9h1v1h-1zM7 9h1v1h-1zM0 10h1v1h-1zM8 10h2v1h-2z"/><path id="g5145" d="M6 0h1v1h-1zM1 1h10v1h-10zM5 2h1v1h-1zM4 3h1v1h-1zM8 3h1v1h-1zM2 4h8v1h-8zM4 5h1v1h-1zM7 5h1v1h-1zM9 5h1v1h-1zM4 6h1v1h-1zM7 6h1v1h-1zM4 7h1v1h-1zM7 7h1v1h-1zM3 8h1v1h-1zM7 8h1v1h-1zM10 8h1v1h-1zM3 9h1v1h-1zM7 9h1v1h-1zM10 9h1v1h-1zM1 10h2v1h-2zM8 10h3v1h-3z"/><path id="g586b" d="M1 0h1v1h-1zM6 0h1v1h-1zM1 1h1v1h-1zM3 1h7v1h-7zM1 2h1v1h-1zM6 2h1v1h-1zM0 3h3v1h-3zM4 3h5v1h-5zM1 4h1v1h-1zM4 4h1v1h-1zM8 4h1v1h-1zM1 5h1v1h-1zM4 5h3v1h-3zM8 5h1v1h-1zM1 6h1v1h-1zM4 6h1v1h-1zM6 6h3v1h-3zM1 7h2v1h-2zM4 7h1v1h-1zM8 7h1v1h-1zM0 8h2v1h-2zM3 8h7v1h-7zM5 9h1v1h-1zM7 9h1v1h-1zM3 10h2v1h-2zM8 10h2v1h-2z"/><path id="g8981" d="M0 0h10v1h-10zM3 1h1v1h-1zM5 1h1v1h-1zM1 2h8v1h-8zM1 3h1v1h-1zM3 3h1v1h-1zM5 3h1v1h-1zM8 3h1v1h-1zM1 4h8v1h-8zM3 5h1v1h-1zM0 6h10v1h-10zM2 7h1v1h-1zM6 7h1v1h-1zM2 8h2v1h-2zM5 8h1v1h-1zM3 9h4v1h-4zM1 10h2v1h-2zM7 10h2v1h-2z"/><path id="g6c42" d="M4 0h1v1h-1zM7 0h1v1h-1zM4 1h1v1h-1zM8 1h1v1h-1zM0 2h10v1h-10zM4 3h1v1h-1zM1 4h1v1h-1zM4 4h1v1h-1zM7 4h1v1h-1zM2 5h1v1h-1zM4 5h1v1h-1zM6 5h1v1h-1zM3 6h3v1h-3zM2 7h1v1h-1zM4 7h1v1h-1zM6 7h1v1h-1zM1 8h1v1h-1zM4 8h1v1h-1zM7 8h1v1h-1zM0 9h1v1h-1zM4 9h1v1h-1zM8 9h2v1h-2zM3 10h2v1h-2z"/><path id="gff0c" d="M3 6h2v1h-2zM3 7h2v1h-2zM4 8h1v1h-1zM3 9h1v1h-1z"/><path id="g5728" d="M5 0h1v1h-1zM5 1h1v1h-1zM1 2h10v1h-10zM4 3h1v1h-1zM3 4h1v1h-1zM7 4h1v1h-1zM2 5h2v1h-2zM7 5h1v1h-1zM1 6h1v1h-1zM3 6h1v1h-1zM5 6h5v1h-5zM3 7h1v1h-1zM7 7h1v1h-1zM3 8h1v1h-1zM7 8h1v1h-1zM3 9h1v1h-1zM7 9h1v1h-1zM3 10h8v1h-8z"/><path id="g4fee" d="M2 0h1v1h-1zM5 0h1v1h-1zM2 1h1v1h-1zM5 1h5v1h-5zM1 2h1v1h-1zM3 2h2v1h-2zM6 2h1v1h-1zM8 2h1v1h-1zM1 3h1v1h-1zM3 3h1v1h-1zM7 3h1v1h-1zM0 4h2v1h-2zM3 4h1v1h-1zM5 4h2v1h-2zM8 4h1v1h-1zM0 5h2v1h-2zM3 5h2v1h-2zM7 5h1v1h-1zM9 5h1v1h-1zM1 6h1v1h-1zM3 6h1v1h-1zM6 6h1v1h-1zM8 6h1v1h-1zM1 7h1v1h-1zM3 7h1v1h-1zM5 7h1v1h-1zM7 7h1v1h-1zM1 8h1v1h-1zM3 8h1v1h-1zM6 8h1v1h-1zM9 8h1v1h-1zM1 9h1v1h-1zM7 9h2v1h-2zM1 10h1v1h-1zM4 10h3v1h-3z"/><path id="g6539" d="M6 0h1v1h-1zM0 1h4v1h-4zM6 1h1v1h-1zM3 2h1v1h-1zM5 2h5v1h-5zM3 3h2v1h-2zM8 3h1v1h-1zM1 4h3v1h-3zM5 4h1v1h-1zM8 4h1v1h-1zM1 5h1v1h-1zM5 5h1v1h-1zM8 5h1v1h-1zM1 6h1v1h-1zM5 6h1v1h-1zM8 6h1v1h-1zM1 7h1v1h-1zM6 7h2v1h-2zM1 8h2v1h-2zM6 8h2v1h-2zM1 9h2v1h-2zM5 9h1v1h-1zM8 9h1v1h-1zM1 10h1v1h-1zM3 10h2v1h-2zM9 10h1v1h-1z"/><path id="g8bbe" d="M0 0h1v1h-1zM4 0h4v1h-4zM1 1h1v1h-1zM4 1h1v1h-1zM7 1h1v1h-1zM4 2h1v1h-1zM7 2h1v1h-1zM3 3h1v1h-1zM7 3h3v1h-3zM0 4h2v1h-2zM1 5h1v1h-1zM3 5h6v1h-6zM1 6h1v1h-1zM4 6h1v1h-1zM8 6h1v1h-1zM1 7h1v1h-1zM5 7h1v1h-1zM7 7h1v1h-1zM1 8h2v1h-2zM6 8h1v1h-1zM1 9h1v1h-1zM5 9h1v1h-1zM7 9h1v1h-1zM2 10h3v1h-3zM8 10h2v1h-2z"/><path id="g8ba1" d="M1 0h1v1h-1zM6 0h1v1h-1zM2 1h1v1h-1zM6 1h1v1h-1zM6 2h1v1h-1zM4 3h6v1h-6zM0 4h3v1h-3zM6 4h1v1h-1zM2 5h1v1h-1zM6 5h1v1h-1zM2 6h1v1h-1zM6 6h1v1h-1zM2 7h1v1h-1zM4 7h1v1h-1zM6 7h1v1h-1zM2 8h2v1h-2zM6 8h1v1h-1zM2 9h1v1h-1zM6 9h1v1h-1zM6 10h1v1h-1z"/><path id="g6216" d="M5 0h1v1h-1zM7 0h1v1h-1zM5 1h1v1h-1zM8 1h1v1h-1zM0 2h10v1h-10zM5 3h1v1h-1zM1 4h3v1h-3zM5 4h1v1h-1zM8 4h1v1h-1zM1 5h1v1h-1zM3 5h1v1h-1zM5 5h1v1h-1zM8 5h1v1h-1zM1 6h3v1h-3zM6 6h1v1h-1zM8 6h1v1h-1zM6 7h2v1h-2zM3 8h2v1h-2zM7 8h1v1h-1zM9 8h1v1h-1zM0 9h3v1h-3zM6 9h1v1h-1zM8 9h2v1h-2zM4 10h2v1h-2zM9 10h1v1h-1z"/><path id="g4e4b" d="M3 0h1v1h-1zM4 1h1v1h-1zM1 2h8v1h-8zM7 3h1v1h-1zM6 4h1v1h-1zM5 5h1v1h-1zM4 6h1v1h-1zM3 7h1v1h-1zM2 8h1v1h-1zM1 9h1v1h-1zM3 9h1v1h-1zM0 10h1v1h-1zM4 10h6v1h-6z"/><path id="g524d" d="M3 0h1v1h-1zM8 0h1v1h-1zM4 1h1v1h-1zM7 1h1v1h-1zM1 2h10v1h-10zM2 4h4v1h-4zM7 4h1v1h-1zM9 4h1v1h-1zM2 5h1v1h-1zM5 5h1v1h-1zM7 5h1v1h-1zM9 5h1v1h-1zM2 6h4v1h-4zM7 6h1v1h-1zM9 6h1v1h-1zM2 7h1v1h-1zM5 7h1v1h-1zM7 7h1v1h-1zM9 7h1v1h-1zM2 8h4v1h-4zM7 8h1v1h-1zM9 8h1v1h-1zM2 9h1v1h-1zM5 9h1v1h-1zM9 9h1v1h-1zM2 10h1v1h-1zM4 10h2v1h-2zM7 10h3v1h-3z"/><path id="g8bf7" d="M0 0h1v1h-1zM6 0h1v1h-1zM1 1h1v1h-1zM3 1h7v1h-7zM1 2h1v1h-1zM6 2h1v1h-1zM4 3h5v1h-5zM0 4h2v1h-2zM6 4h1v1h-1zM1 5h1v1h-1zM3 5h7v1h-7zM1 6h1v1h-1zM4 6h1v1h-1zM8 6h1v1h-1zM1 7h1v1h-1zM4 7h5v1h-5zM1 8h1v1h-1zM4 8h1v1h-1zM8 8h1v1h-1zM1 9h2v1h-2zM4 9h5v1h-5zM1 10h1v1h-1zM4 10h1v1h-1zM8 10h1v1h-1z"/><path id="g5148" d="M5 0h1v1h-1zM2 1h1v1h-1zM5 1h1v1h-1zM2 2h7v1h-7zM1 3h1v1h-1zM5 3h1v1h-1zM0 4h1v1h-1zM5 4h1v1h-1zM0 5h10v1h-10zM3 6h1v1h-1zM6 6h1v1h-1zM3 7h1v1h-1zM6 7h1v1h-1zM3 8h1v1h-1zM6 8h1v1h-1zM9 8h1v1h-1zM2 9h1v1h-1zM6 9h1v1h-1zM9 9h1v1h-1zM0 10h2v1h-2zM7 10h3v1h-3z"/><path id="g5411" d="M4 0h1v1h-1zM3 1h1v1h-1zM0 2h10v1h-10zM0 3h1v1h-1zM9 3h1v1h-1zM0 4h1v1h-1zM3 4h4v1h-4zM9 4h1v1h-1zM0 5h1v1h-1zM3 5h1v1h-1zM6 5h1v1h-1zM9 5h1v1h-1zM0 6h1v1h-1zM3 6h1v1h-1zM6 6h1v1h-1zM9 6h1v1h-1zM0 7h1v1h-1zM3 7h4v1h-4zM9 7h1v1h-1zM0 8h1v1h-1zM9 8h1v1h-1zM0 9h1v1h-1zM9 9h1v1h-1zM0 10h1v1h-1zM7 10h3v1h-3z"/><path id="g8be2" d="M1 0h1v1h-1zM5 0h1v1h-1zM2 1h1v1h-1zM5 1h5v1h-5zM4 2h1v1h-1zM9 2h1v1h-1zM0 3h4v1h-4zM5 3h3v1h-3zM9 3h1v1h-1zM2 4h1v1h-1zM5 4h1v1h-1zM7 4h1v1h-1zM9 4h1v1h-1zM2 5h1v1h-1zM5 5h3v1h-3zM9 5h1v1h-1zM2 6h1v1h-1zM5 6h1v1h-1zM7 6h1v1h-1zM9 6h1v1h-1zM2 7h1v1h-1zM5 7h1v1h-1zM7 7h1v1h-1zM9 7h1v1h-1zM2 8h2v1h-2zM5 8h3v1h-3zM9 8h1v1h-1zM2 9h1v1h-1zM9 9h1v1h-1zM7 10h2v1h-2z"/><path id="g95ee" d="M2 0h1v1h-1zM5 0h6v1h-6zM3 1h1v1h-1zM10 1h1v1h-1zM1 2h1v1h-1zM10 2h1v1h-1zM1 3h1v1h-1zM4 3h4v1h-4zM10 3h1v1h-1zM1 4h1v1h-1zM4 4h1v1h-1zM7 4h1v1h-1zM10 4h1v1h-1zM1 5h1v1h-1zM4 5h1v1h-1zM7 5h1v1h-1zM10 5h1v1h-1zM1 6h1v1h-1zM4 6h1v1h-1zM7 6h1v1h-1zM10 6h1v1h-1zM1 7h1v1h-1zM4 7h4v1h-4zM10 7h1v1h-1zM1 8h1v1h-1zM10 8h1v1h-1zM1 9h1v1h-1zM10 9h1v1h-1zM1 10h1v1h-1zM8 10h3v1h-3z"/><path id="g989d" d="M2 0h1v1h-1zM5 0h5v1h-5zM0 1h5v1h-5zM7 1h1v1h-1zM0 2h1v1h-1zM4 2h6v1h-6zM1 3h3v1h-3zM5 3h1v1h-1zM9 3h1v1h-1zM0 4h2v1h-2zM3 4h1v1h-1zM5 4h1v1h-1zM7 4h1v1h-1zM9 4h1v1h-1zM2 5h1v1h-1zM5 5h1v1h-1zM7 5h1v1h-1zM9 5h1v1h-1zM1 6h1v1h-1zM3 6h1v1h-1zM5 6h1v1h-1zM7 6h1v1h-1zM9 6h1v1h-1zM0 7h6v1h-6zM7 7h1v1h-1zM9 7h1v1h-1zM1 8h1v1h-1zM3 8h1v1h-1zM5 8h1v1h-1zM7 8h1v1h-1zM9 8h1v1h-1zM1 9h3v1h-3zM6 9h1v1h-1zM8 9h1v1h-1zM1 10h1v1h-1zM3 10h3v1h-3zM9 10h1v1h-1z"/><path id="g901f" d="M1 0h1v1h-1zM6 0h1v1h-1zM2 1h8v1h-8zM2 2h1v1h-1zM6 2h1v1h-1zM4 3h6v1h-6zM0 4h3v1h-3zM4 4h1v1h-1zM6 4h1v1h-1zM9 4h1v1h-1zM2 5h1v1h-1zM4 5h6v1h-6zM2 6h1v1h-1zM5 6h3v1h-3zM2 7h1v1h-1zM5 7h2v1h-2zM8 7h1v1h-1zM2 8h1v1h-1zM4 8h1v1h-1zM6 8h1v1h-1zM9 8h1v1h-1zM1 9h1v1h-1zM3 9h1v1h-1zM6 9h1v1h-1zM0 10h1v1h-1zM4 10h6v1h-6z"/><path id="g5ea6" d="M5 0h1v1h-1zM1 1h9v1h-9zM1 2h1v1h-1zM4 2h1v1h-1zM6 2h1v1h-1zM1 3h8v1h-8zM1 4h1v1h-1zM4 4h1v1h-1zM6 4h1v1h-1zM1 5h1v1h-1zM4 5h3v1h-3zM1 6h1v1h-1zM1 7h1v1h-1zM3 7h5v1h-5zM1 8h1v1h-1zM4 8h1v1h-1zM6 8h1v1h-1zM0 9h1v1h-1zM5 9h1v1h-1zM0 10h1v1h-1zM2 10h3v1h-3zM6 10h3v1h-3z"/><path id="g6781" d="M1 0h1v1h-1zM4 0h6v1h-6zM1 1h1v1h-1zM5 1h1v1h-1zM8 1h1v1h-1zM0 2h4v1h-4zM5 2h1v1h-1zM7 2h1v1h-1zM1 3h1v1h-1zM5 3h1v1h-1zM7 3h3v1h-3zM1 4h1v1h-1zM5 4h1v1h-1zM9 4h1v1h-1zM0 5h3v1h-3zM5 5h1v1h-1zM9 5h1v1h-1zM0 6h2v1h-2zM3 6h2v1h-2zM6 6h1v1h-1zM8 6h1v1h-1zM0 7h2v1h-2zM4 7h1v1h-1zM6 7h1v1h-1zM8 7h1v1h-1zM1 8h1v1h-1zM4 8h1v1h-1zM7 8h1v1h-1zM1 9h1v1h-1zM3 9h1v1h-1zM6 9h1v1h-1zM8 9h1v1h-1zM1 10h2v1h-2zM5 10h1v1h-1zM9 10h1v1h-1z"/><path id="g9650" d="M0 0h9v1h-9zM0 1h1v1h-1zM3 1h2v1h-2zM8 1h1v1h-1zM0 2h1v1h-1zM2 2h1v1h-1zM4 2h5v1h-5zM0 3h2v1h-2zM4 3h1v1h-1zM8 3h1v1h-1zM0 4h1v1h-1zM2 4h1v1h-1zM4 4h5v1h-5zM0 5h1v1h-1zM3 5h2v1h-2zM6 5h1v1h-1zM0 6h1v1h-1zM3 6h2v1h-2zM6 6h1v1h-1zM9 6h1v1h-1zM0 7h2v1h-2zM3 7h2v1h-2zM6 7h1v1h-1zM8 7h1v1h-1zM0 8h1v1h-1zM2 8h1v1h-1zM4 8h1v1h-1zM7 8h1v1h-1zM0 9h1v1h-1zM4 9h1v1h-1zM6 9h1v1h-1zM8 9h1v1h-1zM0 10h1v1h-1zM4 10h2v1h-2zM9 10h1v1h-1z"/><path id="g8f6c" d="M2 0h1v1h-1zM6 0h1v1h-1zM0 1h4v1h-4zM5 1h4v1h-4zM1 2h1v1h-1zM6 2h1v1h-1zM1 3h2v1h-2zM4 3h6v1h-6zM0 4h1v1h-1zM2 4h1v1h-1zM5 4h1v1h-1zM0 5h4v1h-4zM5 5h4v1h-4zM2 6h1v1h-1zM8 6h1v1h-1zM2 7h4v1h-4zM7 7h1v1h-1zM0 8h3v1h-3zM6 8h1v1h-1zM2 9h1v1h-1zM7 9h1v1h-1zM2 10h1v1h-1zM7 10h1v1h-1z"/><path id="g6700" d="M2 0h6v1h-6zM2 1h1v1h-1zM7 1h1v1h-1zM2 2h6v1h-6zM2 3h1v1h-1zM7 3h1v1h-1zM0 4h10v1h-10zM1 5h1v1h-1zM4 5h1v1h-1zM1 6h8v1h-8zM1 7h1v1h-1zM4 7h2v1h-2zM8 7h1v1h-1zM1 8h4v1h-4zM6 8h2v1h-2zM0 9h2v1h-2zM4 9h1v1h-1zM6 9h2v1h-2zM4 10h2v1h-2zM8 10h2v1h-2z"/><path id="g9ad8" d="M4 0h1v1h-1zM0 1h10v1h-10zM3 3h4v1h-4zM3 4h1v1h-1zM6 4h1v1h-1zM1 5h8v1h-8zM1 6h1v1h-1zM8 6h1v1h-1zM1 7h1v1h-1zM3 7h4v1h-4zM8 7h1v1h-1zM1 8h1v1h-1zM3 8h1v1h-1zM6 8h1v1h-1zM8 8h1v1h-1zM1 9h1v1h-1zM3 9h4v1h-4zM8 9h1v1h-1zM1 10h1v1h-1zM7 10h2v1h-2z"/><path id="g5e3d" d="M2 0h1v1h-1zM5 0h5v1h-5zM2 1h1v1h-1zM5 1h1v1h-1zM9 1h1v1h-1zM0 2h6v1h-6zM7 2h1v1h-1zM9 2h1v1h-1zM0 3h1v1h-1zM2 3h1v1h-1zM4 3h2v1h-2zM9 3h1v1h-1zM0 4h1v1h-1zM2 4h1v1h-1zM4 4h1v1h-1zM6 4h3v1h-3zM0 5h1v1h-1zM2 5h1v1h-1zM4 5h1v1h-1zM6 5h1v1h-1zM8 5h1v1h-1zM0 6h1v1h-1zM2 6h1v1h-1zM4 6h1v1h-1zM6 6h3v1h-3zM0 7h1v1h-1zM2 7h3v1h-3zM6 7h1v1h-1zM8 7h1v1h-1zM2 8h1v1h-1zM6 8h3v1h-3zM2 9h1v1h-1zM6 9h1v1h-1zM8 9h1v1h-1zM2 10h1v1h-1zM6 10h3v1h-3z"/><path id="g6813" d="M2 0h1v1h-1zM6 0h1v1h-1zM2 1h1v1h-1zM5 1h1v1h-1zM7 1h1v1h-1zM0 2h6v1h-6zM8 2h1v1h-1zM2 3h1v1h-1zM9 3h1v1h-1zM2 4h1v1h-1zM5 4h4v1h-4zM2 5h2v1h-2zM6 5h1v1h-1zM1 6h2v1h-2zM4 6h1v1h-1zM6 6h1v1h-1zM0 7h1v1h-1zM2 7h1v1h-1zM5 7h4v1h-4zM2 8h1v1h-1zM6 8h1v1h-1zM2 9h1v1h-1zM6 9h1v1h-1zM2 10h1v1h-1zM4 10h6v1h-6z"/><path id="g5c3a" d="M2 0h7v1h-7zM2 1h1v1h-1zM8 1h1v1h-1zM2 2h1v1h-1zM8 2h1v1h-1zM2 3h1v1h-1zM8 3h1v1h-1zM2 4h7v1h-7zM2 5h1v1h-1zM4 5h1v1h-1zM2 6h1v1h-1zM4 6h1v1h-1zM2 7h1v1h-1zM5 7h1v1h-1zM2 8h1v1h-1zM6 8h1v1h-1zM1 9h1v1h-1zM7 9h1v1h-1zM0 10h1v1h-1zM8 10h2v1h-2z"/><path id="g5bf8" d="M7 0h1v1h-1zM7 1h1v1h-1zM7 2h1v1h-1zM1 3h10v1h-10zM7 4h1v1h-1zM3 5h1v1h-1zM7 5h1v1h-1zM4 6h1v1h-1zM7 6h1v1h-1zM7 7h1v1h-1zM7 8h1v1h-1zM7 9h1v1h-1zM5 10h3v1h-3z"/><path id="g82f1" d="M2 0h1v1h-1zM6 0h1v1h-1zM0 1h10v1h-10zM2 2h1v1h-1zM6 2h1v1h-1zM4 3h1v1h-1zM1 4h7v1h-7zM1 5h1v1h-1zM4 5h1v1h-1zM7 5h1v1h-1zM1 6h1v1h-1zM4 6h1v1h-1zM7 6h1v1h-1zM0 7h10v1h-10zM3 8h1v1h-1zM5 8h1v1h-1zM1 9h2v1h-2zM6 9h2v1h-2zM0 10h1v1h-1zM8 10h2v1h-2z"/><path id="g63a8" d="M2 0h1v1h-1zM5 0h1v1h-1zM7 0h1v1h-1zM2 1h1v1h-1zM5 1h1v1h-1zM8 1h1v1h-1zM0 2h4v1h-4zM5 2h5v1h-5zM2 3h1v1h-1zM5 3h1v1h-1zM8 3h1v1h-1zM2 4h1v1h-1zM4 4h2v1h-2zM8 4h1v1h-1zM2 5h2v1h-2zM5 5h5v1h-5zM1 6h2v1h-2zM5 6h1v1h-1zM8 6h1v1h-1zM0 7h1v1h-1zM2 7h1v1h-1zM5 7h5v1h-5zM2 8h1v1h-1zM5 8h1v1h-1zM8 8h1v1h-1zM2 9h1v1h-1zM5 9h1v1h-1zM8 9h1v1h-1zM0 10h3v1h-3zM5 10h5v1h-5z"/><path id="g8350" d="M3 0h1v1h-1zM7 0h1v1h-1zM0 1h10v1h-10zM3 2h1v1h-1zM5 2h1v1h-1zM7 2h1v1h-1zM0 3h10v1h-10zM3 4h1v1h-1zM2 5h1v1h-1zM5 5h4v1h-4zM1 6h2v1h-2zM8 6h1v1h-1zM0 7h1v1h-1zM2 7h8v1h-8zM2 8h1v1h-1zM7 8h1v1h-1zM2 9h1v1h-1zM7 9h1v1h-1zM2 10h1v1h-1zM6 10h2v1h-2z"/><path id="g56fa" d="M1 0h10v1h-10zM1 1h1v1h-1zM5 1h1v1h-1zM10 1h1v1h-1zM1 2h1v1h-1zM5 2h1v1h-1zM10 2h1v1h-1zM1 3h8v1h-8zM10 3h1v1h-1zM1 4h1v1h-1zM5 4h1v1h-1zM10 4h1v1h-1zM1 5h1v1h-1zM3 5h5v1h-5zM10 5h1v1h-1zM1 6h1v1h-1zM3 6h1v1h-1zM7 6h1v1h-1zM10 6h1v1h-1zM1 7h1v1h-1zM3 7h1v1h-1zM7 7h1v1h-1zM10 7h1v1h-1zM1 8h1v1h-1zM3 8h5v1h-5zM10 8h1v1h-1zM1 9h1v1h-1zM10 9h1v1h-1zM1 10h10v1h-10z"/><path id="g626d" d="M2 0h1v1h-1zM5 0h4v1h-4zM2 1h1v1h-1zM6 1h1v1h-1zM8 1h1v1h-1zM0 2h5v1h-5zM6 2h1v1h-1zM8 2h1v1h-1zM2 3h1v1h-1zM6 3h1v1h-1zM8 3h1v1h-1zM2 4h1v1h-1zM4 4h1v1h-1zM6 4h1v1h-1zM8 4h1v1h-1zM2 5h2v1h-2zM5 5h4v1h-4zM1 6h2v1h-2zM6 6h1v1h-1zM8 6h1v1h-1zM0 7h1v1h-1zM2 7h1v1h-1zM6 7h1v1h-1zM8 7h1v1h-1zM2 8h1v1h-1zM6 8h1v1h-1zM8 8h1v1h-1zM2 9h1v1h-1zM6 9h1v1h-1zM8 9h1v1h-1zM0 10h3v1h-3zM4 10h6v1h-6z"/><path id="g77e9" d="M1 0h1v1h-1zM1 1h1v1h-1zM6 1h4v1h-4zM1 2h6v1h-6zM0 3h1v1h-1zM3 3h1v1h-1zM6 3h1v1h-1zM3 4h1v1h-1zM6 4h4v1h-4zM0 5h7v1h-7zM9 5h1v1h-1zM3 6h1v1h-1zM6 6h1v1h-1zM9 6h1v1h-1zM2 7h1v1h-1zM4 7h1v1h-1zM6 7h4v1h-4zM2 8h1v1h-1zM4 8h1v1h-1zM6 8h1v1h-1zM1 9h1v1h-1zM4 9h1v1h-1zM6 9h1v1h-1zM0 10h1v1h-1zM6 10h4v1h-4z"/><path id="g9002" d="M1 0h1v1h-1zM7 0h2v1h-2zM2 1h1v1h-1zM4 1h3v1h-3zM2 2h1v1h-1zM6 2h1v1h-1zM4 3h6v1h-6zM0 4h3v1h-3zM6 4h1v1h-1zM2 5h1v1h-1zM5 5h4v1h-4zM2 6h1v1h-1zM5 6h1v1h-1zM8 6h1v1h-1zM2 7h1v1h-1zM5 7h4v1h-4zM2 8h1v1h-1zM5 8h1v1h-1zM8 8h1v1h-1zM1 9h1v1h-1zM3 9h1v1h-1zM0 10h1v1h-1zM4 10h6v1h-6z"/><path id="g7528" d="M1 0h9v1h-9zM1 1h1v1h-1zM5 1h1v1h-1zM9 1h1v1h-1zM1 2h1v1h-1zM5 2h1v1h-1zM9 2h1v1h-1zM1 3h9v1h-9zM1 4h1v1h-1zM5 4h1v1h-1zM9 4h1v1h-1zM1 5h1v1h-1zM5 5h1v1h-1zM9 5h1v1h-1zM1 6h9v1h-9zM1 7h1v1h-1zM5 7h1v1h-1zM9 7h1v1h-1zM1 8h1v1h-1zM5 8h1v1h-1zM9 8h1v1h-1zM0 9h1v1h-1zM5 9h1v1h-1zM9 9h1v1h-1zM0 10h1v1h-1zM5 10h1v1h-1zM8 10h2v1h-2z"/><path id="g6beb" d="M4 0h1v1h-1zM0 1h10v1h-10zM3 2h1v1h-1zM6 2h1v1h-1zM0 3h10v1h-10zM0 4h1v1h-1zM5 4h1v1h-1zM9 4h1v1h-1zM2 5h3v1h-3zM4 6h4v1h-4zM2 7h3v1h-3zM4 8h4v1h-4zM9 8h1v1h-1zM1 9h4v1h-4zM9 9h1v1h-1zM4 10h6v1h-6z"/><path id="g7c73" d="M4 0h1v1h-1zM0 1h1v1h-1zM4 1h1v1h-1zM8 1h1v1h-1zM1 2h1v1h-1zM4 2h1v1h-1zM7 2h1v1h-1zM2 3h1v1h-1zM4 3h1v1h-1zM6 3h1v1h-1zM0 4h10v1h-10zM4 5h1v1h-1zM3 6h3v1h-3zM2 7h1v1h-1zM4 7h1v1h-1zM6 7h1v1h-1zM1 8h1v1h-1zM4 8h1v1h-1zM7 8h1v1h-1zM0 9h1v1h-1zM4 9h1v1h-1zM8 9h2v1h-2zM4 10h1v1h-1z"/><path id="g6cb9" d="M1 0h1v1h-1zM6 0h1v1h-1zM2 1h1v1h-1zM6 1h1v1h-1zM0 2h1v1h-1zM4 2h6v1h-6zM1 3h1v1h-1zM4 3h1v1h-1zM6 3h1v1h-1zM9 3h1v1h-1zM3 4h2v1h-2zM6 4h1v1h-1zM9 4h1v1h-1zM2 5h1v1h-1zM4 5h1v1h-1zM6 5h1v1h-1zM9 5h1v1h-1zM2 6h1v1h-1zM4 6h6v1h-6zM0 7h2v1h-2zM4 7h1v1h-1zM6 7h1v1h-1zM9 7h1v1h-1zM1 8h1v1h-1zM4 8h1v1h-1zM6 8h1v1h-1zM9 8h1v1h-1zM1 9h1v1h-1zM4 9h6v1h-6zM1 10h1v1h-1zM4 10h1v1h-1zM9 10h1v1h-1z"/><path id="g8102" d="M1 0h4v1h-4zM6 0h1v1h-1zM1 1h1v1h-1zM4 1h1v1h-1zM6 1h1v1h-1zM8 1h2v1h-2zM1 2h1v1h-1zM4 2h1v1h-1zM6 2h2v1h-2zM1 3h4v1h-4zM6 3h1v1h-1zM9 3h1v1h-1zM1 4h1v1h-1zM4 4h1v1h-1zM7 4h3v1h-3zM1 5h1v1h-1zM4 5h1v1h-1zM1 6h4v1h-4zM6 6h4v1h-4zM1 7h1v1h-1zM4 7h1v1h-1zM6 7h1v1h-1zM9 7h1v1h-1zM1 8h1v1h-1zM4 8h1v1h-1zM6 8h4v1h-4zM0 9h1v1h-1zM4 9h1v1h-1zM6 9h1v1h-1zM9 9h1v1h-1zM0 10h1v1h-1zM3 10h2v1h-2zM6 10h4v1h-4z"/><path id="g91cf" d="M2 0h6v1h-6zM2 1h1v1h-1zM7 1h1v1h-1zM2 2h6v1h-6zM2 3h1v1h-1zM7 3h1v1h-1zM0 4h10v1h-10zM2 5h1v1h-1zM4 5h1v1h-1zM7 5h1v1h-1zM2 6h6v1h-6zM2 7h1v1h-1zM4 7h1v1h-1zM7 7h1v1h-1zM1 8h8v1h-8zM4 9h1v1h-1zM0 10h10v1h-10z"/><path id="g521d" d="M1 0h1v1h-1zM2 1h1v1h-1zM5 1h5v1h-5zM0 2h5v1h-5zM7 2h1v1h-1zM9 2h1v1h-1zM3 3h1v1h-1zM7 3h1v1h-1zM9 3h1v1h-1zM2 4h1v1h-1zM7 4h1v1h-1zM9 4h1v1h-1zM1 5h2v1h-2zM4 5h1v1h-1zM7 5h1v1h-1zM9 5h1v1h-1zM0 6h1v1h-1zM2 6h2v1h-2zM7 6h1v1h-1zM9 6h1v1h-1zM2 7h1v1h-1zM4 7h1v1h-1zM7 7h1v1h-1zM9 7h1v1h-1zM2 8h1v1h-1zM6 8h1v1h-1zM9 8h1v1h-1zM2 9h1v1h-1zM5 9h1v1h-1zM9 9h1v1h-1zM2 10h1v1h-1zM4 10h1v1h-1zM8 10h1v1h-1z"/><path id="g6b65" d="M4 0h1v1h-1zM2 1h1v1h-1zM4 1h5v1h-5zM2 2h1v1h-1zM4 2h1v1h-1zM2 3h1v1h-1zM4 3h1v1h-1zM0 4h10v1h-10zM4 5h1v1h-1zM3 6h2v1h-2zM8 6h1v1h-1zM2 7h1v1h-1zM4 7h1v1h-1zM7 7h1v1h-1zM1 8h1v1h-1zM6 8h1v1h-1zM4 9h2v1h-2zM0 10h4v1h-4z"/><path id="g5b89" d="M5 0h1v1h-1zM1 1h9v1h-9zM1 2h1v1h-1zM9 2h1v1h-1zM0 3h1v1h-1zM4 3h1v1h-1zM8 3h1v1h-1zM4 4h1v1h-1zM0 5h10v1h-10zM3 6h1v1h-1zM6 6h1v1h-1zM2 7h2v1h-2zM6 7h1v1h-1zM4 8h2v1h-2zM4 9h1v1h-1zM6 9h2v1h-2zM1 10h3v1h-3zM8 10h2v1h-2z"/><path id="g5168" d="M4 0h1v1h-1zM3 1h1v1h-1zM5 1h1v1h-1zM2 2h1v1h-1zM6 2h1v1h-1zM1 3h1v1h-1zM7 3h1v1h-1zM0 4h1v1h-1zM2 4h5v1h-5zM8 4h2v1h-2zM4 5h1v1h-1zM4 6h1v1h-1zM2 7h5v1h-5zM4 8h1v1h-1zM4 9h1v1h-1zM0 10h9v1h-9z"/><path id="g8d1f" d="M3 0h1v1h-1zM3 1h5v1h-5zM2 2h1v1h-1zM6 2h1v1h-1zM1 3h8v1h-8zM0 4h1v1h-1zM2 4h1v1h-1zM8 4h1v1h-1zM2 5h1v1h-1zM5 5h1v1h-1zM8 5h1v1h-1zM2 6h1v1h-1zM5 6h1v1h-1zM8 6h1v1h-1zM2 7h1v1h-1zM5 7h1v1h-1zM8 7h1v1h-1zM2 8h1v1h-1zM5 8h1v1h-1zM8 8h1v1h-1zM3 9h2v1h-2zM6 9h2v1h-2zM0 10h3v1h-3zM8 10h2v1h-2z"/><path id="g8377" d="M3 0h1v1h-1zM6 0h1v1h-1zM0 1h10v1h-10zM3 2h1v1h-1zM6 2h1v1h-1zM2 3h1v1h-1zM4 3h6v1h-6zM2 4h1v1h-1zM8 4h1v1h-1zM1 5h2v1h-2zM4 5h3v1h-3zM8 5h1v1h-1zM0 6h1v1h-1zM2 6h1v1h-1zM4 6h1v1h-1zM6 6h1v1h-1zM8 6h1v1h-1zM2 7h1v1h-1zM4 7h1v1h-1zM6 7h1v1h-1zM8 7h1v1h-1zM2 8h1v1h-1zM4 8h3v1h-3zM8 8h1v1h-1zM2 9h1v1h-1zM8 9h1v1h-1zM2 10h1v1h-1zM6 10h3v1h-3z"/></defs>
<defs>
<linearGradient id="shU" x1="0" y1="0" x2="0" y2="1"><stop offset="0" stop-color="#d2d2d2"/><stop offset="0.6" stop-color="#f5f5f5"/><stop offset="1" stop-color="#dedede"/></linearGradient>
<linearGradient id="shU2" x1="0" y1="0" x2="0" y2="1"><stop offset="0" stop-color="#d6d6d6"/><stop offset="0.6" stop-color="#f5f5f5"/><stop offset="1" stop-color="#e0e0e0"/></linearGradient>
<path id="arL" d="M0 -0.6L1.3 -1.3H5.5V-2.5H7.5V2.5H5.5V1.3H1.3L0 0.6Z"/>
<path id="arR" d="M0 -0.6L-1.3 -1.3H-5.5V-2.5H-7.5V2.5H-5.5V1.3H-1.3L0 0.6Z"/>
<path id="arU" d="M-0.6 0L-1.3 1.3V5.5H-2.5V7.5H2.5V5.5H1.3V1.3L0.6 0Z"/>
<path id="arD" d="M-0.6 0L-1.3 -1.3V-5.5H-2.5V-7.5H2.5V-5.5H1.3V-1.3L0.6 0Z"/>
</defs>
<g id="d1">
<!-- shaft upper half -->
<rect x="17.5" y="83" width="44" height="36" fill="url(#shU)"/>
<rect x="114" y="89" width="37" height="30" fill="url(#shU2)"/>
<!-- shaft lower half -->
<rect x="17.5" y="121.5" width="49.5" height="36" fill="#d7d6d6"/>
<rect x="113" y="121.5" width="38" height="28.5" fill="#d7d6d6"/>
<!-- centerline band -->
<line x1="17" y1="118.5" x2="151" y2="118.5" stroke="#a8a8a8" stroke-width="1"/>
<line x1="17" y1="121.5" x2="151" y2="121.5" stroke="#8c8c8c" stroke-width="1"/>
<!-- shaft edges -->
<path d="M17.5 83.5H62M17.5 157.5H67M114 89.5H151M114 150.5H151" stroke="#555" stroke-width="1" fill="none"/>
<!-- sleeve upper -->
<rect x="95.5" y="86.5" width="19" height="32" fill="#c9c9c9"/>
<path d="M96.5 87V118M98.3 87V118M100.1 87V118M101.9 87V118M103.7 87V118M105.5 87V118M107.3 87V118M109.1 87V118M110.9 87V118M112.7 87V118" stroke="#505050" stroke-width="0.9"/>
<path d="M95.5 86.5V118.5M114.5 86.5V118.5" stroke="#333" stroke-width="1"/>
<!-- sleeve lower -->
<rect x="61.5" y="122" width="38" height="31" fill="#d7d6d6"/>
<rect x="99" y="122" width="21" height="31" fill="#d2d2d2"/>
<rect x="110" y="122" width="3.3" height="31" fill="#a9a9a9"/>
<path d="M100 122V153M101.8 122V153M104.7 122V153M106.3 122V153M108.3 122V153M115 122V153" stroke="#555" stroke-width="0.8"/>
<path d="M118.4 122V153" stroke="#222" stroke-width="2"/>
<rect x="61.5" y="86" width="34" height="32" fill="url(#shU)"/>
<line x1="61.5" y1="86" x2="61.5" y2="119" stroke="#444" stroke-width="1"/><line x1="66.8" y1="122" x2="66.8" y2="157" stroke="#444" stroke-width="1"/>
<g id="hb">
<!-- housing upper -->
<path d="M27 83V62Q27 60 29.5 59.3L44 55.8L46.5 51.2H78V47.5H86V51.2H112.6L132.6 58.9Q141.6 60.5 141.6 68V88.5H126L124.2 81.5V66.6L106.8 62.2V59.5H61.5V62.5L42.7 67.9V83Z" fill="#c3d4e8" stroke="#333" stroke-width="1"/>
<!-- housing lower -->
<path d="M27.3 157H42.7V172Q44 180.6 52 180.6Q55 175.5 57.6 176Q60.5 176.5 62 180.7H106Q108.5 175.5 110.3 176Q112.5 176.5 114 180.7H125.5V152H141.6V178.7Q141.6 186 131 189Q122.3 191 122.3 197.5H111.5L109.4 193H94Q88 188.5 82.8 188.9Q77 189 73.4 193H58L56.3 197.5H46V191.6Q44 189 34 186Q27.3 184 27.3 176Z" fill="#c3d4e8" stroke="#333" stroke-width="1"/>
<path d="M56.3 197.5L58 193H73.4Q77 189 82.8 188.9Q88 188.5 94 193H109.4L111.5 197.5Z" fill="#f4f4f4"/>
<line x1="46" y1="197.8" x2="122.3" y2="197.8" stroke="#555" stroke-width="1"/>
<!-- bearing upper -->
<path d="M61.5 59.5H96.3V86H61.5Z" fill="#fafafa" stroke="#444" stroke-width="0.8"/>
<path d="M62 65.5H96M62 80H96M64 68Q79 63 94 68M64 78Q79 74 94 78M64 68V78M94 68V78M79 62V84" stroke="#555" stroke-width="0.8" fill="none"/>
<rect x="76.5" y="63" width="4" height="16" fill="#ddd" stroke="#666" stroke-width="0.6"/>
<!-- nipple top -->
<path d="M78.5 56V50Q78.5 46.6 82 46.6H83.5Q87 46.6 87 50V56Z" fill="#c3d4e8" stroke="#333" stroke-width="0.9"/>
<path d="M81 49V55M84.5 49V55M80 52H85.5" stroke="#222" stroke-width="1" fill="none"/>
<path d="M49.8 57.6V51.5Q49.8 50.5 51 50.5H56Q57 50.5 57 51.5V57.6" fill="#c3d4e8" stroke="#333" stroke-width="0.9"/>
<path d="M52 52V57M55 52V57" stroke="#222" stroke-width="0.9"/>
<!-- lock nut -->
<rect x="97" y="73" width="13.5" height="14" fill="#fafafa" stroke="#444" stroke-width="0.8"/>
<path d="M98 72L101.5 66.5L104 72Z" fill="#eee" stroke="#555" stroke-width="0.7"/>
<!-- bearing lower -->
<path d="M66.8 153.5H101V180.7H66.8Z" fill="#fafafa" stroke="#444" stroke-width="0.8"/>
<path d="M67 159.5H101M67 175H101M69 161.5Q84 158.5 99 161.5M69 172.5Q84 169 99 172.5M69 161.5V172.5M99 161.5V172.5M84 156V179" stroke="#555" stroke-width="0.8" fill="none"/>
<rect x="81.5" y="162" width="4" height="14" fill="#ddd" stroke="#666" stroke-width="0.6"/>
<path d="M101.6 153H116V166Q116 168 114 168H105Q101.6 168 101.6 164Z" fill="#fafafa" stroke="#555" stroke-width="0.7"/>
<!-- seals -->
<g stroke="#333" stroke-width="0.8">
<path d="M28 76.5H42V83H28Z" fill="#c3d4e8"/>
<rect x="32.4" y="74.5" width="5" height="5.5" fill="#fff" stroke-width="1"/>
<path d="M29 77V82.5M40 77V82.5" stroke="#222" stroke-width="1.6"/>
<path d="M126.5 82H141V88.5H126.5Z" fill="#c3d4e8"/>
<rect x="131" y="80.5" width="5" height="5.5" fill="#fff" stroke-width="1"/>
<path d="M127.8 83V88M139.5 83V88" stroke="#222" stroke-width="1.6"/>
<path d="M28 157H42V163.5H28Z" fill="#c3d4e8"/>
<rect x="32.4" y="160" width="5" height="5.5" fill="#fff" stroke-width="1"/>
<path d="M29 157.5V163M40 157.5V163" stroke="#222" stroke-width="1.6"/>
<path d="M126.5 150H141V156.5H126.5Z" fill="#c3d4e8"/>
<rect x="131" y="152.5" width="5" height="5.5" fill="#fff" stroke-width="1"/>
<path d="M127.8 150.5V156M139.5 150.5V156" stroke="#222" stroke-width="1.6"/>
</g>
</g>
<!-- dimension lines -->
<g stroke="#000" stroke-width="1" fill="none">
<path d="M27.5 17.5V59.5M142.5 17.5V59.5M27.5 20.5H142.5"/>
<path d="M61.5 37.5V60.5M106.5 37.5V73.5M61.5 40.5H106.5"/>
<path d="M134.5 60.5H164.5M141.5 181.5H164.5M161.5 60.5V181.5"/>
<path d="M46.5 199.5V211.5M121.5 198.5V211.5M46.5 208.5H121.5"/>
<path d="M34.5 84.5V157.5M72.5 86.5V153.5M134.5 89.5V150.5"/>
</g>
<g fill="#000"><use href="#arL" x="27.5" y="20.5"/><use href="#arR" x="141.5" y="20.5"/><use href="#arL" x="62.5" y="40.5"/><use href="#arR" x="106.5" y="40.5"/><use href="#arU" x="161.5" y="61.5"/><use href="#arD" x="161.5" y="181.5"/><use href="#arL" x="47.5" y="208.5"/><use href="#arR" x="121.5" y="208.5"/><use href="#arU" x="34.5" y="84.5"/><use href="#arD" x="34.5" y="157.5"/><use href="#arU" x="72.5" y="86.5"/><use href="#arD" x="72.5" y="153.5"/><use href="#arU" x="134.5" y="89.5"/><use href="#arD" x="134.5" y="150.5"/></g>
<!-- label boxes -->
<rect x="29" y="97" width="55" height="16" fill="#fff"/>
<rect x="74" y="127" width="33" height="16" fill="#fff"/>
<rect x="135" y="97" width="53" height="16" fill="#fff"/>
<rect x="154" y="130" width="38" height="16" fill="#fff"/>
</g>
<g id="d2">
<!-- shaft upper -->
<rect x="203" y="84" width="110" height="35" fill="url(#shU)"/>
<rect x="332" y="90.5" width="72.5" height="28.5" fill="url(#shU2)"/>
<!-- shaft lower -->
<rect x="203" y="121.5" width="115" height="36" fill="#d7d6d6"/>
<line x1="198" y1="118.5" x2="410" y2="118.5" stroke="#a8a8a8" stroke-width="1"/>
<line x1="198" y1="121.5" x2="345" y2="121.5" stroke="#8c8c8c" stroke-width="1"/>
<path d="M203 84.5H262M332 91H404.5M203 157.5H286M404.5 90.5V119M280.5 84V119M285.5 122V157" stroke="#555" stroke-width="1" fill="none"/>
<!-- sleeve -->
<rect x="312" y="88" width="20.5" height="31" fill="#c9c9c9"/>
<path d="M313.5 88V119M315.3 88V119M317.1 88V119M318.9 88V119M320.7 88V119M322.5 88V119M324.3 88V119M326.1 88V119M327.9 88V119M329.7 88V119M331.5 88V119" stroke="#505050" stroke-width="0.9"/>
<rect x="318" y="122" width="19" height="31" fill="#c9c9c9"/>
<path d="M319.5 122V153M321.3 122V153M323.1 122V153M324.9 122V153M326.7 122V153M328.5 122V153M330.3 122V153M332.1 122V153M333.9 122V153M335.7 122V153" stroke="#505050" stroke-width="0.9"/>
<path d="M337.5 122V153" stroke="#222" stroke-width="1.6"/>
<path d="M344.5 122V160M352.5 122V160M359.5 122V160" stroke="#8a95a5" stroke-width="0.8"/>
<use href="#hb" x="219.5" y="0.5"/>
<!-- taconite seal upper left -->
<path d="M208.5 84V71.9L226.6 64.2H236.7V70.2H238.3V77.9H246.8V84Z" fill="#c3d4e8" stroke="#333" stroke-width="1"/>
<path d="M209 74.5H218V83.5H209Z" fill="#fff" stroke="#444" stroke-width="0.7"/>
<path d="M210 82L217 76" stroke="#333" stroke-width="0.9"/>
<rect x="221" y="77.5" width="4" height="6.5" fill="#fff" stroke="#555" stroke-width="0.6"/>
<rect x="229.8" y="78.3" width="5" height="5.7" fill="#c3d4e8" stroke="#444" stroke-width="0.7"/>
<g id="fit" stroke="#111" stroke-width="0.9">
<path d="M220 71.5L225 70.5L226.5 77.5L221 78Z" fill="#fff"/>
<path d="M221.8 72V77.5M223.6 71.5V77.5" stroke-width="0.8"/>
<path d="M216 64L223.5 62.5L225.5 69L217.5 70.5Z" fill="#fff"/>
<path d="M218.5 63.5V70M221.5 63V69.5" stroke-width="0.8"/>
<ellipse cx="218.8" cy="60.3" rx="2.3" ry="1.6" fill="#222"/>
</g>
<!-- taconite seal upper right -->
<path d="M397.6 84V78L383 70.3H368.5V71.3H359.5V84Z" fill="#c3d4e8" stroke="#333" stroke-width="1"/>
<rect x="369.5" y="77" width="5.5" height="7" fill="#c3d4e8" stroke="#444" stroke-width="0.7"/>
<path d="M388 76.5H397V83.5H388Z" fill="#fff" stroke="#444" stroke-width="0.7"/>
<path d="M389 77L396 83" stroke="#333" stroke-width="0.9"/>
<use href="#fit" transform="translate(604 2) scale(-1 1)"/>
<!-- taconite seal lower left -->
<path d="M208.5 158V170.6H238.5V165.2H262V158Z" fill="#c3d4e8" stroke="#333" stroke-width="1"/>
<rect x="210" y="158.5" width="7" height="7" fill="#fff" stroke="#555" stroke-width="0.7"/>
<rect x="221" y="158.5" width="5" height="7" fill="#fff" stroke="#555" stroke-width="0.7"/>
<rect x="229" y="158.5" width="5" height="7" fill="#fff" stroke="#555" stroke-width="0.7"/>
<!-- centerline -->
<path d="M198 120H410" stroke="#888" stroke-width="0.6" stroke-dasharray="12 2 2 2"/>
<!-- dims -->
<g stroke="#000" stroke-width="1" fill="none">
<path d="M208.5 35.5V70.5M303.5 35.5V92.5M397.5 35.5V78.5M208.5 38.5H303.5M303.5 38.5H397.5"/>
<path d="M297.5 60.5V93.5M285.5 92.5H297.5M303.5 92.5H313.5"/>
<path d="M197.5 159.5V206.5M197.5 167.5H271.5M197.5 198.5H266.5"/>
<path d="M303.5 152.5V212.5M338.5 122.5V212.5M295.5 209.5H303.5M338.5 209.5H347.5"/>
</g>
<g fill="#000"><use href="#arL" x="208.5" y="38.5"/><use href="#arR" x="303.5" y="38.5"/><use href="#arL" x="304.5" y="38.5"/><use href="#arR" x="397.5" y="38.5"/><use href="#arR" x="296.5" y="92.5"/><use href="#arL" x="304.5" y="92.5"/><use href="#arD" x="197.5" y="166.5"/><use href="#arU" x="197.5" y="198.5"/><use href="#arR" x="303.5" y="209.5"/><use href="#arL" x="338.5" y="209.5"/></g>
<rect x="286" y="96" width="42" height="17" fill="#fff"/>
</g>
<g id="d3" fill="none" stroke-linejoin="round">
<!-- base -->
<path d="M485.5 190.3V166.5Q485.5 163.2 489 163.2H567.4M691.4 163.2H768.7Q772.2 163.2 772.2 166.5V190.3" stroke="#444" stroke-width="1"/>
<path d="M495 190V167Q495 163.5 499 163.5M763 190V167Q763 163.5 759 163.5" stroke="#666" stroke-width="1"/>
<path d="M502 165V190M531 165V190" stroke="#777" stroke-width="1" stroke-dasharray="4 2"/>
<!-- shaft -->
<circle cx="629.4" cy="113.5" r="37" fill="#cdcdcd" stroke="#333" stroke-width="1"/>
<circle cx="629.4" cy="113.5" r="44.8" stroke="#333" stroke-width="1"/>
<!-- cap outer -->
<path d="M557 84Q558 78 566 74.2L588 59.4Q603 48 617 45L619.4 42.7H638.3L641 45Q655 48 670.8 59.4L692.8 74.2Q700.8 78 701.8 84" stroke="#333" stroke-width="1"/>
<path d="M561.5 113.5C561.5 75 590 48 629.4 48C668.8 48 697.3 75 697.3 113.5" stroke="#333" stroke-width="1"/>
<path d="M569.5 113.5C569.5 82 590 57.5 619.5 53.2M689.3 113.5C689.3 82 668.8 57.5 639.3 53.2" stroke="#333" stroke-width="1"/>
<!-- cap vertical continuation / body -->
<path d="M556.8 84V124.7H562.6M701.9 84V124.7H696.2" stroke="#333" stroke-width="1"/>
<path d="M561.5 113.5L567.4 163V181.3H691.4V163L697.3 113.5" stroke="#333" stroke-width="1"/>
<path d="M569.5 113.5V176.4H689.3V113.5" stroke="#333" stroke-width="1"/>
<!-- bolt bosses -->
<path d="M557 84V73Q557 72.9 553 72.9H546Q543.8 72.9 543.8 75V104.5Q543.8 106.8 546 106.8H557" stroke="#333" stroke-width="1"/>
<path d="M701.8 84V73.9H711Q713.6 73.9 713.6 76V104.5Q713.6 106.8 711 106.8H701.8" stroke="#333" stroke-width="1"/>
<path d="M545.2 106.8V137.6M713.6 106.8V137.6" stroke="#555" stroke-width="0.8"/>
<path d="M548 72V65Q548 63.2 550 63.2H563Q565 63.2 565 65V72ZM552.4 63.5V72M560.2 63.5V72" stroke="#333" stroke-width="0.9"/>
<path d="M692 72V65Q692 63.2 694 63.2H707.4Q709.4 63.2 709.4 65V72ZM696.5 63.5V72M705 63.5V72" stroke="#333" stroke-width="0.9"/>
<!-- foot diagonals -->
<path d="M556.8 124.7L527 157Q523 162.5 517 163.2" stroke="#333" stroke-width="1"/>
<path d="M702 124.7L731.8 157Q735.8 162.5 741.8 163.2" stroke="#333" stroke-width="1"/>
<!-- top ridge groove -->
<path d="M619.5 53.2Q618.5 51 621 51H637.8Q640.3 51 639.3 53.2M621.5 51Q622 54 623.5 53.5M637.3 51Q636.8 54 635.3 53.5" stroke="#333" stroke-width="0.9"/>
<!-- grease nipple top -->
<path d="M584.5 61.5L587.2 53Q592 48.8 597.5 50.8L604 55.8L588.5 63.5Z" fill="#fff" stroke="#333" stroke-width="0.9"/><path d="M587.5 53.5Q592 49.5 597 51.2" fill="none" stroke="#111" stroke-width="1.6"/>
<!-- right bolt dashed -->
<path d="M725.5 159.7Q723.9 151.6 725.5 143.5H763.4Q765 151.6 763.4 159.7ZM735 143.5V159.7M754.5 143.5V159.7M736.8 143.5V138H752V143.5" stroke="#999" stroke-width="0.9" stroke-dasharray="3 1.5"/>
<path d="M731 165V200M736 165V200M755.3 165V200M759.4 165V200" stroke="#aaa" stroke-width="0.8" stroke-dasharray="4 2"/>
<!-- plug -->
<circle cx="583.9" cy="171.6" r="4" fill="#9a9a9a" stroke="#222" stroke-width="1"/>
<path d="M580 171.6H588M583.9 167.6V175.6" stroke="#ddd" stroke-width="0.6"/>
<!-- center lines -->
<path d="M629.4 38V205M543.5 113.5H715" stroke="#555" stroke-width="0.8" stroke-dasharray="10 2 2 2"/>
<path d="M516.6 150V190M744.6 150V190M556.3 58V84M700.7 58V84" stroke="#777" stroke-width="0.8" stroke-dasharray="6 2 2 2"/>
</g>
<g id="d3dim" stroke="#000" stroke-width="1" fill="none">
<path d="M433 42.4H615M434.6 42.4V190.3M454.5 113.5H543.5M455.5 113.5V190.3M433 190.3H772.2"/>
<path d="M471 163.2H485.5M471.5 155V200"/>
<path d="M485.5 190.3V247M516.6 190.3V227M744.6 190.3V227M772.2 190.3V247M516.6 224H744.6M485.5 244.5H772.2"/>
<path d="M583.9 181.3V204M629.4 181.3V204M583.9 203.5H629.4"/>
<path d="M588 171.6H644.5M643.5 171V200"/>
<path d="M591.4 31V50M583.9 148V166"/>
<path d="M735.2 129.6V141M754.5 129.6V141M722 129.6H735.2M754.5 129.6H767"/>
</g>
<g fill="#000"><use href="#arU" x="434.5" y="43.5"/><use href="#arD" x="434.5" y="190.5"/><use href="#arU" x="455.5" y="114.5"/><use href="#arD" x="455.5" y="190.5"/><use href="#arD" x="471.5" y="163.5"/><use href="#arU" x="471.5" y="190.5"/><use href="#arL" x="517.5" y="224.5"/><use href="#arR" x="744.5" y="224.5"/><use href="#arL" x="486.5" y="244.5"/><use href="#arR" x="771.5" y="244.5"/><use href="#arL" x="584.5" y="203.5"/><use href="#arR" x="628.5" y="203.5"/><use href="#arD" x="643.5" y="171.5"/><use href="#arU" x="643.5" y="190.5"/><use href="#arD" x="591.5" y="50.5"/><use href="#arD" x="583.5" y="166.5"/><use href="#arR" x="734.5" y="129.5"/><use href="#arL" x="755.5" y="129.5"/></g>
<rect x="573" y="132" width="45" height="14" fill="#fff"/>
<rect x="416" y="63" width="54" height="16" fill="#fff"/>
<rect x="440" y="133" width="48" height="16" fill="#fff"/>
<g id="d4" fill="none">
<!-- plate outline double gray -->
<path d="M815.6 45.4H856.2L865.5 55.4V104L856 115H815.6" stroke="#999" stroke-width="2.6"/>
<path d="M815.6 45.4H856.2L865.5 55.4V104L856 115H815.6" stroke="#fff" stroke-width="0.8"/>
<path d="M817.7 46.7L824.3 64.1V96.8L818 114" stroke="#333" stroke-width="0.9"/>
<path d="M815 66Q819 63.5 824 63.5M815 92Q819 94 824 94.5" stroke="#333" stroke-width="0.8"/>
<!-- slots -->
<ellipse cx="842.4" cy="63.1" rx="10.5" ry="8.4" stroke="#1a1a1a" stroke-width="2.4"/>
<ellipse cx="842.4" cy="63.1" rx="10.5" ry="8.4" stroke="#9a9a9a" stroke-width="0.7"/>
<ellipse cx="842.4" cy="98.2" rx="10.5" ry="8.4" stroke="#1a1a1a" stroke-width="2.4"/>
<ellipse cx="842.4" cy="98.2" rx="10.5" ry="8.4" stroke="#9a9a9a" stroke-width="0.7"/>
<path d="M830 63.1H855M842.4 52V74M830 98.2H855M842.4 87V109" stroke="#555" stroke-width="0.7" stroke-dasharray="5 1.5 1.5 1.5"/>
<path d="M812 80.8H868" stroke="#999" stroke-width="0.9" stroke-dasharray="9 2 2 2"/>
<circle cx="859.1" cy="80.8" r="2.3" stroke="#444" stroke-width="0.8"/>
<g stroke="#000" stroke-width="1">
<path d="M786.5 46.5V79.5M786.5 54.5H833.5M786.5 71.5H833.5"/>
<path d="M831.5 32.5V54.5M853.5 32.5V58.5M820.5 34.5H831.5M853.5 34.5H866.5"/>
<path d="M858.5 63.5H886.5M858.5 98.5H886.5M883.5 55.5V70.5M883.5 87.5V106.5"/>
</g>
<g fill="#000"><use href="#arD" x="786.5" y="53.5"/><use href="#arU" x="786.5" y="72.5"/><use href="#arR" x="831.5" y="34.5"/><use href="#arL" x="853.5" y="34.5"/><use href="#arD" x="883.5" y="62.5"/><use href="#arU" x="883.5" y="98.5"/></g>
</g>
<g id="d5">
<rect x="725" y="459.1" width="68.6" height="7.7" fill="#768f8f" stroke="#55696a" stroke-width="0.8"/>
<path d="M727.5 459.5V466.5M791 459.5V466.5" stroke="#3a4545" stroke-width="0.8"/>
<path d="M733.7 459.3L742.4 448H776.5L785.2 459.3Z" fill="#768f8f" stroke="#3a4545" stroke-width="0.8"/>
<path d="M738.4 449V437.5Q738.4 435.9 740 435.9H743Q744.6 435.9 744.6 437.5V449ZM773.7 449V437.5Q773.7 435.9 775.3 435.9H778.4Q780 435.9 780 437.5V449Z" fill="#768f8f" stroke="#3a4545" stroke-width="0.8"/>
<path d="M739 438H744M774.3 438H779.4" stroke="#2a3333" stroke-width="1.5"/>
<path d="M744.2 464.6V441Q744.2 431.2 759.4 431.2Q773.7 431.2 773.7 441V464.6Z" fill="#768f8f" stroke="#2f3a3a" stroke-width="1"/>
<path d="M746 437Q752 431.5 759.4 431.5Q767 431.5 772 437" fill="none" stroke="#222" stroke-width="1.3"/>
<circle cx="759.1" cy="447.5" r="8" fill="#d9d9d9" stroke="#2c3535" stroke-width="1.5"/>
<path d="M751.5 447.5H766.7M759.1 439.7V455.3M759.1 456V469" stroke="#8a8a8a" stroke-width="0.6"/>
<g stroke="#e2101c" stroke-width="1.1" fill="#e2101c">
<path d="M759.4 439V421"/><path d="M759.4 416.5L757 422.5H761.8Z"/>
<path d="M764 439.5L772.5 426.5"/><path d="M774.8 423L769.7 426.6L773.8 429.2Z"/>
<path d="M767.5 443L781 435"/><path d="M785.5 432.5L779.2 433L781.7 437.2Z"/>
<path d="M767.5 447.5H784" stroke-dasharray="1.5 0.8"/><path d="M789.6 447.5L783.6 444.8V450.2Z"/>
<path d="M767 452.5L781 461"/><path d="M785.5 463.5L782.6 458.3L779.9 462.5Z"/>
</g>
</g>

<use href="#g8f74" x="2" y="280"/>
<use href="#g8f74" x="3" y="280"/>
<use href="#g627f" x="14" y="280"/>
<use href="#g627f" x="15" y="280"/>
<use href="#g5ea7" x="25" y="280"/>
<use href="#g5ea7" x="26" y="280"/>
<use href="#g5957" x="36" y="280"/>
<use href="#g5957" x="37" y="280"/>
<use href="#g4ef6" x="48" y="280"/>
<use href="#g4ef6" x="49" y="280"/>
<use href="#g90e8" x="60" y="280"/>
<use href="#g90e8" x="61" y="280"/>
<use href="#g4ef6" x="71" y="280"/>
<use href="#g4ef6" x="72" y="280"/>
<text x="82.50" y="286.00" style="font-family:'Liberation Serif';font-size:10px;font-weight:bold;stroke:#000;stroke-width:0.35px">1)</text>
<use href="#g8f74" x="2" y="295"/>
<use href="#g627f" x="13" y="295"/>
<use href="#g5ea7" x="24" y="295"/>
<text x="34.00" y="301.00" style="font-family:'Liberation Serif';font-size:10px;stroke:#000;stroke-width:0.35px">2)</text>
<use href="#g8f74" x="2" y="310"/>
<use href="#g627f" x="13" y="310"/>
<text x="23.00" y="316.00" style="font-family:'Liberation Serif';font-size:10px;stroke:#000;stroke-width:0.35px">3)</text>
<use href="#g5b9a" x="2" y="325"/>
<use href="#g4f4d" x="13" y="325"/>
<use href="#g73af" x="24" y="325"/>
<use href="#g9501" x="2" y="340"/>
<use href="#g5b9a" x="13" y="340"/>
<use href="#g87ba" x="24" y="340"/>
<use href="#g6bcd" x="35" y="340"/>
<use href="#g9501" x="2" y="355"/>
<use href="#g7d27" x="13" y="355"/>
<use href="#g57ab" x="24" y="355"/>
<use href="#g5708" x="35" y="355"/>
<use href="#g5bc6" x="2" y="376"/>
<use href="#g5c01" x="13" y="376"/>
<use href="#g4ef6" x="24" y="376"/>
<use href="#g9009" x="35" y="376"/>
<use href="#g62e9" x="46" y="376"/>
<use href="#gff1a" x="54" y="376"/>
<text x="1.00" y="400.00" textLength="41.50" lengthAdjust="spacing" style="font-family:'Liberation Serif';font-size:11px;stroke:#000;stroke-width:0.35px">PosiTrac</text>
<use href="#g5bc6" x="46" y="390"/>
<use href="#g5c01" x="57" y="390"/>
<use href="#g4ef6" x="68" y="390"/>
<text x="1.50" y="415.00" textLength="146.00" lengthAdjust="spacing" style="font-family:'Liberation Serif';font-size:11px;stroke:#000;stroke-width:0.35px">PosiTrac Plus contact elements</text>
<text x="1.00" y="430.00" textLength="41.00" lengthAdjust="spacing" style="font-family:'Liberation Serif';font-size:11px;stroke:#000;stroke-width:0.35px">Taconite</text>
<use href="#g5bc6" x="43" y="420"/>
<use href="#g5c01" x="54" y="420"/>
<use href="#g4ef6" x="65" y="420"/>
<text x="206.00" y="305.00" style="font-family:'Liberation Sans';font-size:11px">FSAF 311</text>
<text x="206.00" y="320.00" style="font-family:'Liberation Sans';font-size:11px">22311 E</text>
<text x="206.00" y="335.00" style="font-family:'Liberation Sans';font-size:11px">1 x SR 13-11</text>
<text x="206.00" y="350.00" style="font-family:'Liberation Sans';font-size:11px">N 11</text>
<text x="206.00" y="365.00" style="font-family:'Liberation Sans';font-size:11px">W 11</text>
<text x="206.00" y="400.00" style="font-family:'Liberation Sans';font-size:11px">LER 40</text>
<text x="292.00" y="400.00" style="font-family:'Liberation Sans';font-size:11px">LER 27</text>
<text x="206.00" y="415.00" style="font-family:'Liberation Sans';font-size:11px">-</text>
<text x="292.00" y="415.00" style="font-family:'Liberation Sans';font-size:11px">-</text>
<text x="206.00" y="430.00" style="font-family:'Liberation Sans';font-size:11px">-</text>
<text x="292.00" y="430.00" style="font-family:'Liberation Sans';font-size:11px">TER 27</text>
<text x="206.00" y="481.00" style="font-family:'Liberation Sans';font-size:11px">-</text>
<text x="292.00" y="481.00" style="font-family:'Liberation Sans';font-size:11px">TER 27 V</text>
<text x="206.00" y="496.00" style="font-family:'Liberation Sans';font-size:11px">B-9784-35</text>
<text x="292.00" y="496.00" style="font-family:'Liberation Sans';font-size:11px">-</text>
<text x="206.00" y="511.00" style="font-family:'Liberation Sans';font-size:11px">EPR 6</text>
<use href="#g5176" x="2" y="456"/>
<use href="#g5176" x="3" y="456"/>
<use href="#g4ed6" x="14" y="456"/>
<use href="#g4ed6" x="15" y="456"/>
<use href="#g7684" x="25" y="456"/>
<use href="#g7684" x="26" y="456"/>
<use href="#g5bc6" x="36" y="456"/>
<use href="#g5bc6" x="37" y="456"/>
<use href="#g5c01" x="48" y="456"/>
<use href="#g5c01" x="49" y="456"/>
<use href="#g9009" x="60" y="456"/>
<use href="#g9009" x="61" y="456"/>
<use href="#g62e9" x="71" y="456"/>
<use href="#g62e9" x="72" y="456"/>
<use href="#g5e26" x="2" y="471"/>
<text x="12.00" y="481.00" style="font-family:'Liberation Serif';font-size:11px;stroke:#000;stroke-width:0.35px">V</text>
<use href="#g5f62" x="24" y="471"/>
<use href="#g5708" x="35" y="471"/>
<use href="#g7684" x="46" y="471"/>
<use href="#g71e7" x="57" y="471"/>
<use href="#g5ca9" x="68" y="471"/>
<use href="#g5bc6" x="79" y="471"/>
<use href="#g5c01" x="90" y="471"/>
<use href="#g4ef6" x="101" y="471"/>
<use href="#gff08" x="111" y="471"/>
<use href="#g540e" x="123" y="471"/>
<use href="#g7f00" x="134" y="471"/>
<text x="146.00" y="481.00" textLength="15.00" lengthAdjust="spacing" style="font-family:'Liberation Serif';font-size:11px;stroke:#000;stroke-width:0.35px">TV</text>
<use href="#gff09" x="159" y="471"/>
<use href="#g63a5" x="2" y="486"/>
<use href="#g89e6" x="13" y="486"/>
<use href="#g5bc6" x="24" y="486"/>
<use href="#g5c01" x="35" y="486"/>
<use href="#g4ef6" x="46" y="486"/>
<use href="#gff08" x="54" y="486"/>
<use href="#g540e" x="64" y="486"/>
<use href="#g7f00" x="75" y="486"/>
<text x="86.00" y="496.00" textLength="17.00" lengthAdjust="spacing" style="font-family:'Liberation Serif';font-size:11px;stroke:#000;stroke-width:0.35px">-210</text>
<use href="#gff09" x="107" y="486"/>
<use href="#g7aef" x="2" y="501"/>
<use href="#g76d6" x="13" y="501"/>
<use href="#gff08" x="20" y="501"/>
<use href="#g540e" x="33" y="501"/>
<use href="#g7f00" x="44" y="501"/>
<text x="56.00" y="511.00" textLength="6.00" lengthAdjust="spacing" style="font-family:'Liberation Serif';font-size:11px;stroke:#000;stroke-width:0.35px">Y</text>
<use href="#gff09" x="61" y="501"/>
<use href="#g8bf4" x="2" y="526"/>
<use href="#g8bf4" x="3" y="526"/>
<use href="#g660e" x="14" y="526"/>
<use href="#g660e" x="15" y="526"/>
<text x="1.00" y="547.00" style="font-family:'Liberation Serif';font-size:10px;stroke:#000;stroke-width:0.35px">1)</text>
<use href="#g8f74" x="12" y="541"/>
<use href="#g627f" x="23" y="541"/>
<use href="#g5ea7" x="34" y="541"/>
<use href="#g5957" x="45" y="541"/>
<use href="#g4ef6" x="56" y="541"/>
<use href="#g4e2d" x="67" y="541"/>
<use href="#g7684" x="78" y="541"/>
<use href="#g90e8" x="89" y="541"/>
<use href="#g4ef6" x="100" y="541"/>
<use href="#g4e5f" x="111" y="541"/>
<use href="#g53ef" x="122" y="541"/>
<use href="#g5355" x="133" y="541"/>
<use href="#g72ec" x="144" y="541"/>
<use href="#g8ba2" x="155" y="541"/>
<use href="#g8d2d" x="166" y="541"/>
<text x="1.00" y="562.00" style="font-family:'Liberation Serif';font-size:10px;stroke:#000;stroke-width:0.35px">2)</text>
<use href="#g8f74" x="12" y="556"/>
<use href="#g627f" x="23" y="556"/>
<use href="#g5ea7" x="34" y="556"/>
<use href="#g59cb" x="45" y="556"/>
<use href="#g7ec8" x="56" y="556"/>
<use href="#g914d" x="67" y="556"/>
<use href="#g5907" x="78" y="556"/>
<use href="#g8ff7" x="89" y="556"/>
<use href="#g5bab" x="100" y="556"/>
<use href="#g5bc6" x="111" y="556"/>
<use href="#g5c01" x="122" y="556"/>
<use href="#g73af" x="133" y="556"/>
<use href="#g548c" x="144" y="556"/>
<use href="#g5b9a" x="155" y="556"/>
<use href="#g4f4d" x="166" y="556"/>
<use href="#g73af" x="177" y="556"/>
<text x="1.00" y="577.00" style="font-family:'Liberation Serif';font-size:10px;stroke:#000;stroke-width:0.35px">3)</text>
<use href="#g53c2" x="12" y="571"/>
<use href="#g770b" x="23" y="571"/>
<use href="#g578b" x="34" y="571"/>
<use href="#g5f55" x="45" y="571"/>
<text x="56.00" y="581.00" style="font-family:'Liberation Serif';font-size:11px;stroke:#000;stroke-width:0.35px">“</text>
<use href="#g6eda" x="62" y="571"/>
<use href="#g5b50" x="73" y="571"/>
<use href="#g8f74" x="85" y="571"/>
<use href="#g627f" x="96" y="571"/>
<text x="106.00" y="581.00" style="font-family:'Liberation Serif';font-size:11px;stroke:#000;stroke-width:0.35px">”</text>
<use href="#g4e2d" x="113" y="571"/>
<use href="#g7684" x="124" y="571"/>
<use href="#g5176" x="135" y="571"/>
<use href="#g4ed6" x="146" y="571"/>
<use href="#g5185" x="157" y="571"/>
<use href="#g90e8" x="168" y="571"/>
<use href="#g6e38" x="179" y="571"/>
<use href="#g9699" x="190" y="571"/>
<use href="#g6570" x="201" y="571"/>
<use href="#g636e" x="212" y="571"/>
<text x="1.00" y="592.00" style="font-family:'Liberation Serif';font-size:10px;stroke:#000;stroke-width:0.35px">4)</text>
<use href="#g6709" x="12" y="586"/>
<use href="#g5173" x="24" y="586"/>
<text x="36.00" y="596.00" style="font-family:'Liberation Sans';font-size:11px">100%</text>
<use href="#g8f74" x="67" y="586"/>
<use href="#g627f" x="78" y="586"/>
<use href="#g5145" x="89" y="586"/>
<use href="#g586b" x="100" y="586"/>
<use href="#g548c" x="111" y="586"/>
<text x="124.00" y="596.00" style="font-family:'Liberation Sans';font-size:11px">50%</text>
<use href="#g8f74" x="149" y="586"/>
<use href="#g627f" x="160" y="586"/>
<use href="#g5ea7" x="171" y="586"/>
<use href="#g5145" x="182" y="586"/>
<use href="#g586b" x="193" y="586"/>
<use href="#g8981" x="204" y="586"/>
<use href="#g6c42" x="215" y="586"/>
<use href="#gff0c" x="226" y="586"/>
<use href="#g5728" x="240" y="586"/>
<use href="#g4fee" x="251" y="586"/>
<use href="#g6539" x="262" y="586"/>
<use href="#g8bbe" x="273" y="586"/>
<use href="#g8ba1" x="284" y="586"/>
<use href="#g6216" x="295" y="586"/>
<use href="#g8ba2" x="306" y="586"/>
<use href="#g8d2d" x="317" y="586"/>
<use href="#g4e4b" x="328" y="586"/>
<use href="#g524d" x="339" y="586"/>
<use href="#g8bf7" x="2" y="601"/>
<use href="#g8bf7" x="3" y="601"/>
<use href="#g5148" x="14" y="601"/>
<use href="#g5148" x="15" y="601"/>
<use href="#g5411" x="25" y="601"/>
<use href="#g5411" x="26" y="601"/>
<text x="39.00" y="611.00" textLength="21.50" lengthAdjust="spacing" style="font-family:'Liberation Serif';font-size:11px;font-weight:bold;stroke:#000;stroke-width:0.35px">SKF</text>
<use href="#g8be2" x="64" y="601"/>
<use href="#g8be2" x="65" y="601"/>
<use href="#g95ee" x="76" y="601"/>
<use href="#g95ee" x="77" y="601"/>
<use href="#g989d" x="384" y="281"/>
<use href="#g989d" x="385" y="281"/>
<use href="#g5b9a" x="396" y="281"/>
<use href="#g5b9a" x="397" y="281"/>
<use href="#g901f" x="407" y="281"/>
<use href="#g901f" x="408" y="281"/>
<use href="#g5ea6" x="418" y="281"/>
<use href="#g5ea6" x="419" y="281"/>
<text x="429.00" y="291.00" textLength="36.00" lengthAdjust="spacing" style="font-family:'Liberation Serif';font-size:11px;font-weight:bold;stroke:#000;stroke-width:0.35px">, r/min</text>
<use href="#g8f74" x="384" y="295"/>
<use href="#g627f" x="395" y="295"/>
<use href="#g6781" x="406" y="295"/>
<use href="#g9650" x="417" y="295"/>
<use href="#g8f6c" x="428" y="295"/>
<use href="#g901f" x="439" y="295"/>
<text x="384.00" y="320.00" textLength="63.50" lengthAdjust="spacing" style="font-family:'Liberation Serif';font-size:11px;stroke:#000;stroke-width:0.35px">PosiTrac Plus</text>
<use href="#g5bc6" x="451" y="310"/>
<use href="#g5c01" x="462" y="310"/>
<use href="#g4ef6" x="473" y="310"/>
<use href="#g7684" x="484" y="310"/>
<use href="#g6700" x="495" y="310"/>
<use href="#g9ad8" x="506" y="310"/>
<use href="#g901f" x="517" y="310"/>
<use href="#g5ea6" x="528" y="310"/>
<use href="#g71e7" x="384" y="325"/>
<use href="#g5ca9" x="395" y="325"/>
<use href="#g5bc6" x="406" y="325"/>
<use href="#g5c01" x="417" y="325"/>
<use href="#g4ef6" x="428" y="325"/>
<use href="#g7684" x="439" y="325"/>
<use href="#g6700" x="450" y="325"/>
<use href="#g9ad8" x="461" y="325"/>
<use href="#g901f" x="472" y="325"/>
<use href="#g5ea6" x="483" y="325"/>
<text x="660.00" y="305.00" style="font-family:'Liberation Sans';font-size:11px">5600</text>
<text x="660.00" y="320.00" style="font-family:'Liberation Sans';font-size:11px">-</text>
<text x="660.00" y="335.00" style="font-family:'Liberation Sans';font-size:11px">-</text>
<use href="#g6709" x="384" y="362"/>
<use href="#g6709" x="385" y="362"/>
<use href="#g5e3d" x="396" y="362"/>
<use href="#g5e3d" x="397" y="362"/>
<use href="#g87ba" x="407" y="362"/>
<use href="#g87ba" x="408" y="362"/>
<use href="#g6813" x="418" y="362"/>
<use href="#g6813" x="419" y="362"/>
<use href="#g5c3a" x="384" y="376"/>
<use href="#g5bf8" x="395" y="376"/>
<text x="408.50" y="386.00" style="font-family:'Liberation Serif';font-size:12px;stroke:#000;stroke-width:0.35px">[</text>
<use href="#g82f1" x="412" y="376"/>
<use href="#g5bf8" x="423" y="376"/>
<text x="435.00" y="386.00" style="font-family:'Liberation Serif';font-size:12px;stroke:#000;stroke-width:0.35px">]</text>
<use href="#g63a8" x="384" y="391"/>
<use href="#g8350" x="395" y="391"/>
<use href="#g7684" x="406" y="391"/>
<use href="#g7d27" x="418" y="391"/>
<use href="#g56fa" x="427" y="391"/>
<use href="#g626d" x="384" y="406"/>
<use href="#g77e9" x="395" y="406"/>
<text x="409.50" y="416.00" textLength="57.50" lengthAdjust="spacing" style="font-family:'Liberation Serif';font-size:11px;stroke:#000;stroke-width:0.35px">[ft.lbs (Nm)]</text>
<text x="590.00" y="385.00" style="font-family:'Liberation Sans';font-size:11px">1/2-13</text>
<text x="590.00" y="415.00" style="font-family:'Liberation Sans';font-size:11px">110</text>
<text x="648.00" y="415.00" style="font-family:'Liberation Sans';font-size:11px">(150)</text>
<use href="#g9002" x="384" y="431"/>
<use href="#g9002" x="385" y="431"/>
<use href="#g7528" x="396" y="431"/>
<use href="#g7528" x="397" y="431"/>
<use href="#g7684" x="407" y="431"/>
<use href="#g7684" x="408" y="431"/>
<use href="#g56fa" x="418" y="431"/>
<use href="#g56fa" x="419" y="431"/>
<use href="#g5b9a" x="430" y="431"/>
<use href="#g5b9a" x="431" y="431"/>
<use href="#g87ba" x="442" y="431"/>
<use href="#g87ba" x="443" y="431"/>
<use href="#g6813" x="453" y="431"/>
<use href="#g6813" x="454" y="431"/>
<use href="#g5c3a" x="384" y="446"/>
<use href="#g5bf8" x="395" y="446"/>
<text x="408.50" y="456.00" style="font-family:'Liberation Serif';font-size:12px;stroke:#000;stroke-width:0.35px">[</text>
<use href="#g82f1" x="412" y="446"/>
<use href="#g5bf8" x="423" y="446"/>
<text x="436.50" y="456.00" style="font-family:'Liberation Serif';font-size:12px;stroke:#000;stroke-width:0.35px">(</text>
<use href="#g6beb" x="441" y="446"/>
<use href="#g7c73" x="452" y="446"/>
<text x="464.50" y="456.00" style="font-family:'Liberation Serif';font-size:12px;stroke:#000;stroke-width:0.35px">)]</text>
<text x="590.00" y="455.00" style="font-family:'Liberation Sans';font-size:11px">1/2</text>
<text x="648.00" y="455.00" style="font-family:'Liberation Sans';font-size:11px">(12)</text>
<use href="#g6cb9" x="384" y="471"/>
<use href="#g6cb9" x="385" y="471"/>
<use href="#g8102" x="396" y="471"/>
<use href="#g8102" x="397" y="471"/>
<use href="#g91cf" x="407" y="471"/>
<use href="#g91cf" x="408" y="471"/>
<text x="419.50" y="477.00" style="font-family:'Liberation Serif';font-size:10px;font-weight:bold;stroke:#000;stroke-width:0.35px">4)</text>
<use href="#g521d" x="384" y="486"/>
<use href="#g6b65" x="395" y="486"/>
<use href="#g586b" x="406" y="486"/>
<use href="#g5145" x="417" y="486"/>
<text x="428.00" y="496.00" textLength="35.00" lengthAdjust="spacing" style="font-family:'Liberation Serif';font-size:11px;stroke:#000;stroke-width:0.35px">, lb (kg)</text>
<text x="590.00" y="495.00" style="font-family:'Liberation Sans';font-size:11px">0,5</text>
<text x="648.00" y="495.00" style="font-family:'Liberation Sans';font-size:11px">(0,25)</text>
<use href="#g8f74" x="726" y="280"/>
<use href="#g8f74" x="727" y="280"/>
<use href="#g627f" x="737" y="280"/>
<use href="#g627f" x="738" y="280"/>
<use href="#g5ea7" x="748" y="280"/>
<use href="#g5ea7" x="749" y="280"/>
<use href="#g6700" x="760" y="280"/>
<use href="#g6700" x="761" y="280"/>
<use href="#g9ad8" x="772" y="280"/>
<use href="#g9ad8" x="773" y="280"/>
<use href="#g5b89" x="783" y="280"/>
<use href="#g5b89" x="784" y="280"/>
<use href="#g5168" x="794" y="280"/>
<use href="#g5168" x="795" y="280"/>
<use href="#g8d1f" x="806" y="280"/>
<use href="#g8d1f" x="807" y="280"/>
<use href="#g8377" x="818" y="280"/>
<use href="#g8377" x="819" y="280"/>
<text x="833.00" y="290.00" textLength="46.00" lengthAdjust="spacing" style="font-family:'Liberation Serif';font-size:11px;font-weight:bold;stroke:#000;stroke-width:0.35px">[lbf (kN)]</text>
<text x="724.00" y="305.00" style="font-family:'Liberation Serif';font-size:12px">P</text>
<text x="731.50" y="308.00" style="font-family:'Liberation Serif';font-size:10px">60°</text>
<text x="784.00" y="305.00" style="font-family:'Liberation Sans';font-size:11px">8010</text>
<text x="839.00" y="305.00" style="font-family:'Liberation Sans';font-size:11px">(35,7)</text>
<text x="724.00" y="320.00" style="font-family:'Liberation Serif';font-size:12px">P</text>
<text x="731.50" y="323.00" style="font-family:'Liberation Serif';font-size:10px">90°</text>
<text x="784.00" y="320.00" style="font-family:'Liberation Sans';font-size:11px">4800</text>
<text x="839.00" y="320.00" style="font-family:'Liberation Sans';font-size:11px">(21,4)</text>
<text x="724.00" y="335.00" style="font-family:'Liberation Serif';font-size:12px">P</text>
<text x="731.50" y="338.00" style="font-family:'Liberation Serif';font-size:10px">120°</text>
<text x="784.00" y="335.00" style="font-family:'Liberation Sans';font-size:11px">3000</text>
<text x="839.00" y="335.00" style="font-family:'Liberation Sans';font-size:11px">(13,3)</text>
<text x="724.00" y="350.00" style="font-family:'Liberation Serif';font-size:12px">P</text>
<text x="731.50" y="353.00" style="font-family:'Liberation Serif';font-size:10px">150°</text>
<text x="784.00" y="350.00" style="font-family:'Liberation Sans';font-size:11px">2750</text>
<text x="839.00" y="350.00" style="font-family:'Liberation Sans';font-size:11px">(12,2)</text>
<text x="724.00" y="365.00" style="font-family:'Liberation Serif';font-size:12px">P</text>
<text x="731.50" y="368.00" style="font-family:'Liberation Serif';font-size:10px">180°</text>
<text x="784.00" y="365.00" style="font-family:'Liberation Sans';font-size:11px">3250</text>
<text x="839.00" y="365.00" style="font-family:'Liberation Sans';font-size:11px">(14,5)</text>
<text x="724.00" y="380.00" style="font-family:'Liberation Serif';font-size:12px">P</text>
<text x="731.50" y="383.00" style="font-family:'Liberation Serif';font-size:10px">a</text>
<text x="784.00" y="380.00" style="font-family:'Liberation Sans';font-size:11px">2110</text>
<text x="839.00" y="380.00" style="font-family:'Liberation Sans';font-size:11px">(9,4)</text>
<text x="45.00" y="14.00" style="font-family:'Liberation Sans';font-size:11px">A</text>
<text x="52.84" y="17.00" style="font-family:'Liberation Sans';font-size:9px">2</text>
<text x="64.00" y="14.00" style="font-family:'Liberation Sans';font-size:11px">127</text>
<text x="72.50" y="33.00" style="font-family:'Liberation Sans';font-size:11px">C</text>
<text x="80.94" y="36.00" style="font-family:'Liberation Sans';font-size:9px">a</text>
<text x="91.50" y="33.00" style="font-family:'Liberation Sans';font-size:11px">52,807</text>
<text x="29.50" y="108.00" style="font-family:'Liberation Sans';font-size:11px">d</text>
<text x="36.12" y="111.00" style="font-family:'Liberation Sans';font-size:9px">b</text>
<text x="47.50" y="108.00" style="font-family:'Liberation Sans';font-size:11px">65,088</text>
<text x="136.70" y="109.00" style="font-family:'Liberation Sans';font-size:11px">d</text>
<text x="143.32" y="112.00" style="font-family:'Liberation Sans';font-size:9px">c</text>
<text x="154.50" y="109.00" style="font-family:'Liberation Sans';font-size:11px">52,388</text>
<text x="74.60" y="139.00" style="font-family:'Liberation Sans';font-size:11px">d</text>
<text x="81.22" y="142.00" style="font-family:'Liberation Sans';font-size:9px">a</text>
<text x="92.60" y="139.00" style="font-family:'Liberation Sans';font-size:11px">55</text>
<text x="156.50" y="142.00" style="font-family:'Liberation Sans';font-size:11px">D</text>
<text x="164.94" y="145.00" style="font-family:'Liberation Sans';font-size:9px">a</text>
<text x="174.50" y="142.00" style="font-family:'Liberation Sans';font-size:11px">120</text>
<text x="67.80" y="224.00" style="font-family:'Liberation Sans';font-size:11px">A</text>
<text x="75.64" y="227.00" style="font-family:'Liberation Sans';font-size:9px">1</text>
<text x="87.00" y="224.00" style="font-family:'Liberation Sans';font-size:11px">79,375</text>
<text x="417.00" y="76.00" style="font-family:'Liberation Sans';font-size:11px">H</text>
<text x="428.80" y="76.00" style="font-family:'Liberation Sans';font-size:11px">157,162</text>
<text x="440.50" y="145.00" style="font-family:'Liberation Sans';font-size:11px">H</text>
<text x="448.94" y="148.00" style="font-family:'Liberation Sans';font-size:9px">1</text>
<text x="458.00" y="145.00" style="font-family:'Liberation Sans';font-size:11px">82,55</text>
<text x="439.50" y="213.50" style="font-family:'Liberation Sans';font-size:11px">H</text>
<text x="447.94" y="216.50" style="font-family:'Liberation Sans';font-size:9px">2</text>
<text x="457.00" y="213.50" style="font-family:'Liberation Sans';font-size:11px">30,163</text>
<text x="651.00" y="203.50" style="font-family:'Liberation Sans';font-size:11px">H</text>
<text x="659.44" y="206.50" style="font-family:'Liberation Sans';font-size:9px">3</text>
<text x="669.80" y="203.50" style="font-family:'Liberation Sans';font-size:11px">25,4</text>
<text x="593.00" y="216.00" style="font-family:'Liberation Sans';font-size:11px">L</text>
<text x="599.62" y="219.00" style="font-family:'Liberation Sans';font-size:9px">1</text>
<text x="611.60" y="216.00" style="font-family:'Liberation Sans';font-size:11px">44,45</text>
<text x="593.50" y="239.00" style="font-family:'Liberation Sans';font-size:11px">J</text>
<text x="604.30" y="239.00" style="font-family:'Liberation Sans';font-size:11px">223,838</text>
<text x="593.00" y="264.00" style="font-family:'Liberation Sans';font-size:11px">L</text>
<text x="605.30" y="264.00" style="font-family:'Liberation Sans';font-size:11px">279,4</text>
<text x="582.00" y="26.70" style="font-family:'Liberation Sans';font-size:11px">1/8 NPT</text>
<text x="576.00" y="143.50" style="font-family:'Liberation Sans';font-size:11px">1/8 NPT</text>
<text x="718.50" y="121.30" style="font-family:'Liberation Sans';font-size:11px">G 1/2 in.</text>
<text x="224.00" y="30.60" style="font-family:'Liberation Sans';font-size:11px">A</text>
<text x="231.84" y="33.60" style="font-family:'Liberation Sans';font-size:9px">3</text>
<text x="242.50" y="30.60" style="font-family:'Liberation Sans';font-size:11px">98,445</text>
<text x="341.00" y="30.60" style="font-family:'Liberation Sans';font-size:11px">A</text>
<text x="348.84" y="33.60" style="font-family:'Liberation Sans';font-size:9px">4</text>
<text x="359.50" y="30.60" style="font-family:'Liberation Sans';font-size:11px">98,445</text>
<text x="287.00" y="109.00" style="font-family:'Liberation Sans';font-size:11px">S</text>
<text x="298.50" y="109.00" style="font-family:'Liberation Sans';font-size:11px">4,763</text>
<text x="351.50" y="212.00" style="font-family:'Liberation Sans';font-size:11px">b</text>
<text x="358.12" y="215.00" style="font-family:'Liberation Sans';font-size:9px">a</text>
<text x="369.00" y="212.00" style="font-family:'Liberation Sans';font-size:11px">38,1</text>
<text x="210.00" y="10.00" textLength="41.00" lengthAdjust="spacing" style="font-family:'Liberation Serif';font-size:11px;stroke:#000;stroke-width:0.35px">Taconite</text>
<use href="#g5bc6" x="252" y="0"/>
<use href="#g5c01" x="263" y="0"/>
<use href="#g4ef6" x="274" y="0"/>
<use href="#g6cb9" x="170" y="227"/>
<use href="#g4f4d" x="181" y="227"/>
<text x="191.00" y="237.00" style="font-family:'Liberation Serif';font-size:11px;stroke:#000;stroke-width:0.35px">,</text>
<use href="#g82f1" x="198" y="227"/>
<use href="#g5bf8" x="209" y="227"/>
<text x="223.00" y="237.00" textLength="48.00" lengthAdjust="spacing" style="font-family:'Liberation Serif';font-size:11px;stroke:#000;stroke-width:0.35px">[in. (mm)]</text>
<text x="170.00" y="251.50" style="font-family:'Liberation Sans';font-size:11px">1.7/16</text>
<text x="217.50" y="251.50" style="font-family:'Liberation Sans';font-size:11px">(37)</text>
<text x="741.00" y="40.50" style="font-family:'Liberation Sans';font-size:11px">N</text>
<text x="749.44" y="43.50" style="font-family:'Liberation Sans';font-size:9px">1</text>
<text x="758.30" y="40.50" style="font-family:'Liberation Sans';font-size:11px">14,287</text>
<text x="829.30" y="24.80" style="font-family:'Liberation Sans';font-size:11px">N</text>
<text x="841.30" y="24.80" style="font-family:'Liberation Sans';font-size:11px">31,75</text>
<text x="877.50" y="82.70" style="font-family:'Liberation Sans';font-size:11px">J</text>
<text x="883.50" y="85.70" style="font-family:'Liberation Sans';font-size:9px">1</text>
<text x="894.50" y="82.70" style="font-family:'Liberation Sans';font-size:11px">50,8</text>
<text x="741.00" y="422.00" style="font-family:'Liberation Sans';font-size:8px" fill="#333">180°</text>
<text x="777.00" y="427.00" style="font-family:'Liberation Sans';font-size:8px" fill="#333">150°</text>
<text x="787.00" y="437.00" style="font-family:'Liberation Sans';font-size:8px" fill="#333">120°</text>
<text x="794.00" y="452.00" style="font-family:'Liberation Sans';font-size:8px" fill="#333">90°</text>
<text x="795.00" y="467.00" style="font-family:'Liberation Sans';font-size:8px" fill="#333">60°</text>
</svg>
</body></html>
